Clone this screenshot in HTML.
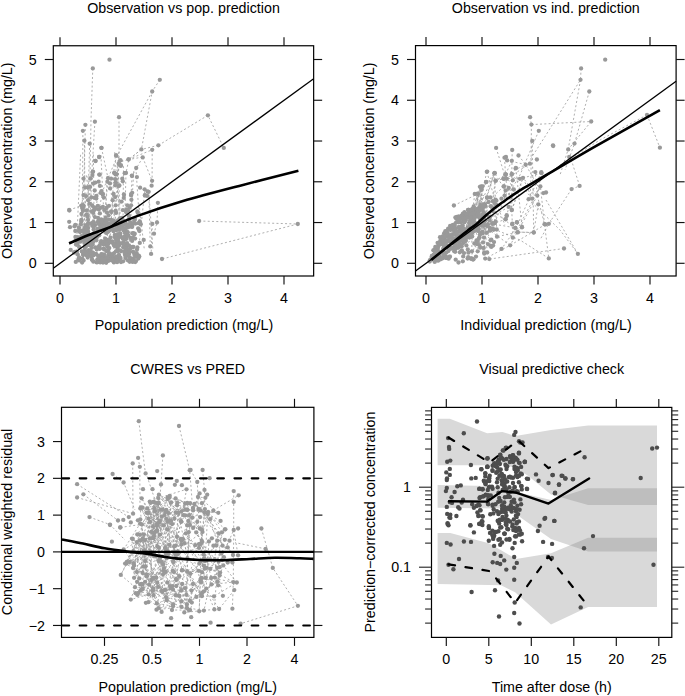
<!DOCTYPE html><html><head><meta charset="utf-8"><style>html,body{margin:0;padding:0;background:#fff;overflow:hidden}svg{display:block}</style></head><body><svg width="685" height="696" viewBox="0 0 685 696" font-family="Liberation Sans, sans-serif">
<rect width="685" height="696" fill="#fff"/>
<path d="M92.8,68.4 L91.0,120.0 L90.0,175.0 L89.0,215.0 M159.8,79.8 L152.2,91.5 L141.4,149.4 L128.9,159.4 L120.0,162.0 M142.7,157.4 L152.1,180.8 M142.7,157.4 L132.0,176.0 L131.1,195.4 M152.2,91.5 L120.0,150.0 L103.0,190.0 L95.0,230.0 M158.4,145.3 L207.9,115.3 L223.8,147.9 M199.1,221.0 L297.8,224.0 L162.0,259.0 M119.0,117.2 L119.0,163.7 L117.0,200.0 M94.9,121.7 L92.0,170.0 L90.0,220.0 M85.4,124.8 L84.0,180.0 L83.0,230.0 M82.9,130.8 L82.5,190.0 L82.0,240.0 M84.4,140.7 L85.0,200.0 L84.0,250.0 M89.7,143.7 L88.0,200.0 L87.0,245.0 M101.5,147.9 L108.0,178.2 L105.0,215.0 M141.4,149.4 L128.9,159.4 L126.0,172.9 L125.0,210.0 M152.2,149.8 L152.1,180.8 L151.6,185.7 M158.4,145.3 L141.6,149.4 M69.2,209.9 L83.0,205.3 M157.9,202.8 L157.0,222.5 L154.0,233.7 M150.3,246.4 L149.0,200.0 L148.7,191.8 M152.3,223.9 L151.1,253.9 M142.6,157.1 L128.6,159.5 M128.5,159.3 L152.2,149.8 M109.5,59.7 M135.9,167.9 L139.8,226.3 M88.1,176.2 L89.4,241.2 M90.2,184.7 L94.4,238.5 M82.0,202.6 L85.7,223.1 M115.5,196.0 L113.4,223.6 M86.1,192.8 L82.6,240.1 M93.4,154.5 L94.1,224.4 M110.6,188.7 L114.7,218.6 M148.7,190.7 L152.9,249.9 M86.6,175.4 L90.0,218.7 M117.7,155.9 L121.0,235.9 M118.6,156.7 L113.3,259.0 M139.0,203.6 L144.4,250.3 M117.2,162.1 L120.0,237.2 M133.8,171.1 L128.2,259.5 M114.7,152.2 L120.6,231.8 M88.3,204.2 L90.5,257.5 M83.9,175.9 L79.1,247.5 M100.9,155.1 L105.9,254.6 M144.7,191.3 L139.4,242.1 M113.7,191.8 L108.0,250.5 M80.6,154.8 L75.9,258.4 M107.3,176.2 L102.9,256.5 M98.3,192.5 L94.3,219.0 M81.8,202.7 L81.8,226.0 M106.5,204.0 L107.8,248.5 M114.3,164.7 L109.5,254.4 M123.5,166.2 L123.0,228.0 " fill="none" stroke="#9a9a9a" stroke-width="0.8" stroke-dasharray="2,2.3"/>
<g fill="#999999"><circle cx="100.6" cy="224.3" r="2.15"/><circle cx="101.5" cy="219.7" r="2.15"/><circle cx="81.3" cy="220.0" r="2.15"/><circle cx="115.1" cy="229.2" r="2.15"/><circle cx="105.4" cy="231.3" r="2.15"/><circle cx="96.8" cy="249.5" r="2.15"/><circle cx="137.0" cy="249.6" r="2.15"/><circle cx="83.1" cy="255.1" r="2.15"/><circle cx="113.3" cy="243.5" r="2.15"/><circle cx="80.8" cy="224.2" r="2.15"/><circle cx="81.7" cy="239.4" r="2.15"/><circle cx="74.5" cy="226.3" r="2.15"/><circle cx="133.4" cy="247.0" r="2.15"/><circle cx="81.7" cy="240.1" r="2.15"/><circle cx="82.2" cy="258.6" r="2.15"/><circle cx="111.5" cy="212.1" r="2.15"/><circle cx="108.3" cy="250.0" r="2.15"/><circle cx="88.2" cy="255.7" r="2.15"/><circle cx="117.8" cy="226.4" r="2.15"/><circle cx="118.5" cy="259.7" r="2.15"/><circle cx="107.3" cy="239.9" r="2.15"/><circle cx="121.1" cy="236.9" r="2.15"/><circle cx="132.9" cy="251.7" r="2.15"/><circle cx="124.9" cy="251.0" r="2.15"/><circle cx="96.0" cy="239.7" r="2.15"/><circle cx="99.7" cy="248.8" r="2.15"/><circle cx="103.8" cy="229.1" r="2.15"/><circle cx="133.2" cy="233.1" r="2.15"/><circle cx="133.8" cy="252.5" r="2.15"/><circle cx="103.7" cy="248.7" r="2.15"/><circle cx="119.2" cy="258.6" r="2.15"/><circle cx="119.0" cy="225.2" r="2.15"/><circle cx="85.1" cy="187.4" r="2.15"/><circle cx="115.2" cy="246.0" r="2.15"/><circle cx="92.9" cy="236.4" r="2.15"/><circle cx="112.2" cy="241.5" r="2.15"/><circle cx="125.0" cy="254.7" r="2.15"/><circle cx="135.1" cy="238.6" r="2.15"/><circle cx="100.7" cy="230.0" r="2.15"/><circle cx="95.1" cy="225.1" r="2.15"/><circle cx="125.4" cy="258.1" r="2.15"/><circle cx="126.9" cy="231.5" r="2.15"/><circle cx="83.4" cy="254.2" r="2.15"/><circle cx="91.1" cy="255.1" r="2.15"/><circle cx="107.6" cy="242.6" r="2.15"/><circle cx="105.2" cy="238.7" r="2.15"/><circle cx="117.6" cy="258.2" r="2.15"/><circle cx="114.0" cy="221.0" r="2.15"/><circle cx="128.9" cy="254.2" r="2.15"/><circle cx="129.3" cy="260.2" r="2.15"/><circle cx="104.2" cy="228.3" r="2.15"/><circle cx="125.7" cy="224.5" r="2.15"/><circle cx="97.8" cy="259.2" r="2.15"/><circle cx="87.4" cy="216.6" r="2.15"/><circle cx="99.2" cy="246.8" r="2.15"/><circle cx="112.5" cy="256.4" r="2.15"/><circle cx="84.4" cy="235.5" r="2.15"/><circle cx="93.6" cy="229.5" r="2.15"/><circle cx="113.5" cy="231.2" r="2.15"/><circle cx="84.8" cy="240.2" r="2.15"/><circle cx="133.6" cy="260.2" r="2.15"/><circle cx="104.4" cy="241.7" r="2.15"/><circle cx="105.1" cy="225.0" r="2.15"/><circle cx="139.3" cy="256.6" r="2.15"/><circle cx="125.7" cy="237.0" r="2.15"/><circle cx="104.3" cy="261.5" r="2.15"/><circle cx="86.6" cy="255.2" r="2.15"/><circle cx="124.0" cy="246.7" r="2.15"/><circle cx="123.2" cy="242.3" r="2.15"/><circle cx="114.0" cy="229.9" r="2.15"/><circle cx="115.5" cy="225.1" r="2.15"/><circle cx="118.5" cy="242.0" r="2.15"/><circle cx="86.5" cy="210.3" r="2.15"/><circle cx="82.1" cy="208.1" r="2.15"/><circle cx="86.1" cy="254.7" r="2.15"/><circle cx="104.6" cy="260.1" r="2.15"/><circle cx="98.3" cy="221.4" r="2.15"/><circle cx="96.1" cy="254.0" r="2.15"/><circle cx="102.4" cy="260.6" r="2.15"/><circle cx="105.7" cy="257.5" r="2.15"/><circle cx="101.7" cy="261.1" r="2.15"/><circle cx="100.8" cy="192.9" r="2.15"/><circle cx="106.2" cy="262.8" r="2.15"/><circle cx="108.7" cy="227.1" r="2.15"/><circle cx="98.6" cy="229.9" r="2.15"/><circle cx="116.7" cy="223.5" r="2.15"/><circle cx="94.9" cy="217.1" r="2.15"/><circle cx="92.7" cy="240.5" r="2.15"/><circle cx="112.9" cy="242.7" r="2.15"/><circle cx="94.6" cy="232.5" r="2.15"/><circle cx="91.4" cy="223.3" r="2.15"/><circle cx="75.0" cy="252.0" r="2.15"/><circle cx="93.8" cy="238.9" r="2.15"/><circle cx="99.5" cy="245.7" r="2.15"/><circle cx="125.4" cy="222.6" r="2.15"/><circle cx="131.4" cy="199.8" r="2.15"/><circle cx="105.1" cy="222.9" r="2.15"/><circle cx="78.4" cy="240.6" r="2.15"/><circle cx="105.6" cy="242.3" r="2.15"/><circle cx="92.3" cy="260.2" r="2.15"/><circle cx="103.5" cy="222.3" r="2.15"/><circle cx="119.0" cy="255.5" r="2.15"/><circle cx="119.1" cy="245.6" r="2.15"/><circle cx="110.1" cy="255.0" r="2.15"/><circle cx="84.9" cy="238.1" r="2.15"/><circle cx="80.4" cy="241.7" r="2.15"/><circle cx="107.5" cy="246.9" r="2.15"/><circle cx="86.8" cy="253.1" r="2.15"/><circle cx="92.6" cy="223.2" r="2.15"/><circle cx="102.7" cy="194.4" r="2.15"/><circle cx="106.0" cy="220.4" r="2.15"/><circle cx="125.4" cy="237.8" r="2.15"/><circle cx="86.7" cy="251.5" r="2.15"/><circle cx="113.9" cy="262.4" r="2.15"/><circle cx="101.7" cy="259.1" r="2.15"/><circle cx="98.0" cy="255.7" r="2.15"/><circle cx="93.9" cy="235.5" r="2.15"/><circle cx="127.7" cy="232.5" r="2.15"/><circle cx="95.2" cy="237.5" r="2.15"/><circle cx="108.6" cy="215.3" r="2.15"/><circle cx="96.2" cy="233.7" r="2.15"/><circle cx="82.4" cy="239.4" r="2.15"/><circle cx="91.9" cy="247.8" r="2.15"/><circle cx="128.3" cy="227.2" r="2.15"/><circle cx="98.7" cy="220.0" r="2.15"/><circle cx="123.2" cy="247.3" r="2.15"/><circle cx="91.9" cy="211.3" r="2.15"/><circle cx="96.9" cy="236.6" r="2.15"/><circle cx="124.9" cy="233.1" r="2.15"/><circle cx="104.7" cy="244.4" r="2.15"/><circle cx="133.0" cy="223.2" r="2.15"/><circle cx="85.6" cy="225.7" r="2.15"/><circle cx="91.7" cy="256.8" r="2.15"/><circle cx="77.8" cy="254.6" r="2.15"/><circle cx="108.4" cy="224.3" r="2.15"/><circle cx="88.8" cy="253.9" r="2.15"/><circle cx="109.3" cy="248.1" r="2.15"/><circle cx="107.4" cy="181.7" r="2.15"/><circle cx="87.0" cy="225.0" r="2.15"/><circle cx="78.4" cy="259.4" r="2.15"/><circle cx="117.6" cy="241.7" r="2.15"/><circle cx="103.0" cy="262.5" r="2.15"/><circle cx="108.7" cy="254.7" r="2.15"/><circle cx="104.2" cy="209.9" r="2.15"/><circle cx="118.0" cy="221.3" r="2.15"/><circle cx="115.9" cy="251.3" r="2.15"/><circle cx="108.8" cy="254.5" r="2.15"/><circle cx="89.5" cy="203.6" r="2.15"/><circle cx="132.4" cy="246.8" r="2.15"/><circle cx="93.7" cy="226.5" r="2.15"/><circle cx="103.9" cy="257.2" r="2.15"/><circle cx="134.4" cy="253.9" r="2.15"/><circle cx="82.5" cy="230.7" r="2.15"/><circle cx="130.6" cy="237.8" r="2.15"/><circle cx="118.1" cy="257.5" r="2.15"/><circle cx="85.0" cy="233.5" r="2.15"/><circle cx="94.8" cy="233.3" r="2.15"/><circle cx="134.7" cy="233.7" r="2.15"/><circle cx="99.7" cy="221.5" r="2.15"/><circle cx="86.1" cy="245.7" r="2.15"/><circle cx="88.5" cy="241.5" r="2.15"/><circle cx="88.1" cy="223.2" r="2.15"/><circle cx="132.6" cy="261.9" r="2.15"/><circle cx="101.2" cy="241.1" r="2.15"/><circle cx="134.9" cy="219.0" r="2.15"/><circle cx="108.0" cy="231.8" r="2.15"/><circle cx="115.4" cy="243.9" r="2.15"/><circle cx="104.4" cy="249.4" r="2.15"/><circle cx="105.5" cy="258.7" r="2.15"/><circle cx="124.6" cy="244.6" r="2.15"/><circle cx="119.5" cy="225.4" r="2.15"/><circle cx="86.9" cy="245.3" r="2.15"/><circle cx="112.7" cy="221.2" r="2.15"/><circle cx="117.7" cy="248.1" r="2.15"/><circle cx="83.6" cy="260.4" r="2.15"/><circle cx="103.2" cy="242.0" r="2.15"/><circle cx="98.6" cy="181.7" r="2.15"/><circle cx="118.0" cy="251.1" r="2.15"/><circle cx="83.5" cy="205.6" r="2.15"/><circle cx="100.2" cy="262.4" r="2.15"/><circle cx="79.1" cy="257.4" r="2.15"/><circle cx="123.1" cy="238.7" r="2.15"/><circle cx="74.0" cy="252.7" r="2.15"/><circle cx="123.5" cy="220.7" r="2.15"/><circle cx="96.4" cy="196.0" r="2.15"/><circle cx="78.9" cy="227.4" r="2.15"/><circle cx="77.8" cy="237.2" r="2.15"/><circle cx="120.2" cy="233.6" r="2.15"/><circle cx="83.5" cy="178.6" r="2.15"/><circle cx="113.4" cy="224.8" r="2.15"/><circle cx="116.0" cy="259.1" r="2.15"/><circle cx="84.9" cy="230.7" r="2.15"/><circle cx="98.8" cy="209.5" r="2.15"/><circle cx="118.5" cy="223.7" r="2.15"/><circle cx="103.7" cy="226.6" r="2.15"/><circle cx="91.4" cy="197.3" r="2.15"/><circle cx="93.0" cy="253.5" r="2.15"/><circle cx="86.9" cy="233.8" r="2.15"/><circle cx="101.8" cy="229.1" r="2.15"/><circle cx="94.1" cy="225.7" r="2.15"/><circle cx="123.5" cy="230.2" r="2.15"/><circle cx="127.7" cy="252.4" r="2.15"/><circle cx="84.5" cy="234.9" r="2.15"/><circle cx="107.5" cy="229.9" r="2.15"/><circle cx="127.8" cy="260.3" r="2.15"/><circle cx="93.0" cy="253.0" r="2.15"/><circle cx="119.5" cy="236.2" r="2.15"/><circle cx="137.4" cy="247.5" r="2.15"/><circle cx="75.4" cy="237.0" r="2.15"/><circle cx="100.5" cy="242.9" r="2.15"/><circle cx="86.1" cy="238.0" r="2.15"/><circle cx="92.0" cy="241.8" r="2.15"/><circle cx="127.7" cy="224.9" r="2.15"/><circle cx="118.9" cy="229.8" r="2.15"/><circle cx="98.2" cy="230.6" r="2.15"/><circle cx="135.2" cy="262.0" r="2.15"/><circle cx="119.4" cy="185.4" r="2.15"/><circle cx="88.6" cy="239.3" r="2.15"/><circle cx="90.3" cy="245.4" r="2.15"/><circle cx="123.1" cy="261.3" r="2.15"/><circle cx="118.0" cy="223.0" r="2.15"/><circle cx="94.3" cy="197.8" r="2.15"/><circle cx="115.3" cy="229.8" r="2.15"/><circle cx="99.9" cy="248.4" r="2.15"/><circle cx="125.0" cy="239.7" r="2.15"/><circle cx="125.8" cy="247.8" r="2.15"/><circle cx="97.0" cy="237.1" r="2.15"/><circle cx="115.3" cy="246.3" r="2.15"/><circle cx="92.1" cy="240.3" r="2.15"/><circle cx="121.5" cy="223.1" r="2.15"/><circle cx="93.2" cy="212.9" r="2.15"/><circle cx="106.7" cy="258.8" r="2.15"/><circle cx="75.8" cy="261.9" r="2.15"/><circle cx="116.8" cy="258.4" r="2.15"/><circle cx="78.7" cy="230.9" r="2.15"/><circle cx="104.3" cy="225.0" r="2.15"/><circle cx="128.3" cy="235.7" r="2.15"/><circle cx="84.6" cy="227.9" r="2.15"/><circle cx="100.2" cy="227.2" r="2.15"/><circle cx="121.0" cy="262.1" r="2.15"/><circle cx="114.7" cy="257.5" r="2.15"/><circle cx="86.1" cy="246.0" r="2.15"/><circle cx="106.6" cy="251.2" r="2.15"/><circle cx="88.1" cy="231.6" r="2.15"/><circle cx="108.0" cy="244.3" r="2.15"/><circle cx="85.4" cy="245.4" r="2.15"/><circle cx="123.5" cy="223.3" r="2.15"/><circle cx="130.3" cy="248.4" r="2.15"/><circle cx="112.4" cy="254.4" r="2.15"/><circle cx="131.1" cy="239.0" r="2.15"/><circle cx="116.1" cy="212.9" r="2.15"/><circle cx="88.1" cy="228.1" r="2.15"/><circle cx="82.1" cy="262.5" r="2.15"/><circle cx="98.6" cy="247.2" r="2.15"/><circle cx="100.9" cy="219.6" r="2.15"/><circle cx="92.9" cy="236.9" r="2.15"/><circle cx="88.6" cy="250.2" r="2.15"/><circle cx="100.8" cy="257.2" r="2.15"/><circle cx="121.5" cy="227.9" r="2.15"/><circle cx="99.7" cy="259.0" r="2.15"/><circle cx="118.0" cy="234.1" r="2.15"/><circle cx="127.1" cy="249.8" r="2.15"/><circle cx="120.1" cy="233.9" r="2.15"/><circle cx="132.6" cy="258.6" r="2.15"/><circle cx="111.6" cy="260.4" r="2.15"/><circle cx="114.8" cy="236.7" r="2.15"/><circle cx="83.1" cy="207.6" r="2.15"/><circle cx="96.4" cy="240.3" r="2.15"/><circle cx="80.0" cy="232.1" r="2.15"/><circle cx="120.6" cy="243.3" r="2.15"/><circle cx="136.0" cy="253.8" r="2.15"/><circle cx="93.3" cy="222.2" r="2.15"/><circle cx="76.0" cy="244.5" r="2.15"/><circle cx="89.2" cy="243.4" r="2.15"/><circle cx="100.5" cy="224.1" r="2.15"/><circle cx="79.1" cy="260.4" r="2.15"/><circle cx="97.3" cy="228.9" r="2.15"/><circle cx="137.4" cy="211.4" r="2.15"/><circle cx="79.1" cy="247.0" r="2.15"/><circle cx="104.1" cy="254.5" r="2.15"/><circle cx="89.6" cy="240.1" r="2.15"/><circle cx="106.0" cy="223.2" r="2.15"/><circle cx="122.0" cy="217.9" r="2.15"/><circle cx="97.3" cy="260.0" r="2.15"/><circle cx="110.7" cy="259.6" r="2.15"/><circle cx="111.9" cy="226.9" r="2.15"/><circle cx="103.8" cy="220.4" r="2.15"/><circle cx="87.4" cy="245.0" r="2.15"/><circle cx="127.0" cy="244.4" r="2.15"/><circle cx="113.0" cy="223.6" r="2.15"/><circle cx="122.2" cy="226.0" r="2.15"/><circle cx="138.8" cy="255.7" r="2.15"/><circle cx="116.0" cy="223.2" r="2.15"/><circle cx="108.3" cy="256.2" r="2.15"/><circle cx="97.9" cy="222.2" r="2.15"/><circle cx="76.9" cy="251.9" r="2.15"/><circle cx="116.6" cy="256.7" r="2.15"/><circle cx="75.6" cy="240.3" r="2.15"/><circle cx="102.6" cy="261.3" r="2.15"/><circle cx="120.6" cy="225.6" r="2.15"/><circle cx="108.3" cy="260.9" r="2.15"/><circle cx="108.9" cy="223.5" r="2.15"/><circle cx="109.9" cy="254.1" r="2.15"/><circle cx="88.0" cy="219.8" r="2.15"/><circle cx="111.9" cy="222.9" r="2.15"/><circle cx="106.5" cy="233.1" r="2.15"/><circle cx="123.8" cy="197.9" r="2.15"/><circle cx="120.5" cy="258.0" r="2.15"/><circle cx="75.3" cy="224.8" r="2.15"/><circle cx="117.3" cy="250.3" r="2.15"/><circle cx="81.3" cy="221.4" r="2.15"/><circle cx="98.0" cy="217.8" r="2.15"/><circle cx="103.1" cy="224.1" r="2.15"/><circle cx="92.2" cy="236.8" r="2.15"/><circle cx="129.8" cy="257.3" r="2.15"/><circle cx="103.3" cy="227.0" r="2.15"/><circle cx="112.1" cy="229.0" r="2.15"/><circle cx="136.9" cy="177.1" r="2.15"/><circle cx="127.7" cy="235.6" r="2.15"/><circle cx="109.8" cy="241.6" r="2.15"/><circle cx="92.2" cy="205.5" r="2.15"/><circle cx="102.5" cy="244.0" r="2.15"/><circle cx="85.2" cy="232.6" r="2.15"/><circle cx="91.7" cy="238.9" r="2.15"/><circle cx="124.9" cy="222.5" r="2.15"/><circle cx="97.8" cy="262.1" r="2.15"/><circle cx="93.7" cy="255.2" r="2.15"/><circle cx="82.8" cy="252.3" r="2.15"/><circle cx="100.7" cy="207.8" r="2.15"/><circle cx="87.7" cy="257.6" r="2.15"/><circle cx="81.3" cy="205.6" r="2.15"/><circle cx="105.9" cy="222.5" r="2.15"/><circle cx="122.9" cy="221.4" r="2.15"/><circle cx="90.3" cy="241.9" r="2.15"/><circle cx="128.9" cy="215.9" r="2.15"/><circle cx="136.0" cy="261.1" r="2.15"/><circle cx="122.9" cy="210.2" r="2.15"/><circle cx="101.5" cy="191.1" r="2.15"/><circle cx="131.6" cy="226.1" r="2.15"/><circle cx="129.4" cy="252.6" r="2.15"/><circle cx="104.6" cy="261.6" r="2.15"/><circle cx="80.3" cy="238.7" r="2.15"/><circle cx="93.0" cy="224.2" r="2.15"/><circle cx="134.4" cy="220.2" r="2.15"/><circle cx="109.3" cy="230.6" r="2.15"/><circle cx="114.2" cy="260.4" r="2.15"/><circle cx="84.9" cy="248.0" r="2.15"/><circle cx="86.3" cy="254.4" r="2.15"/><circle cx="98.7" cy="223.9" r="2.15"/><circle cx="128.6" cy="219.3" r="2.15"/><circle cx="117.3" cy="245.2" r="2.15"/><circle cx="126.3" cy="245.5" r="2.15"/><circle cx="92.7" cy="244.7" r="2.15"/><circle cx="81.4" cy="236.1" r="2.15"/><circle cx="138.9" cy="229.8" r="2.15"/><circle cx="123.3" cy="244.1" r="2.15"/><circle cx="109.0" cy="258.0" r="2.15"/><circle cx="84.5" cy="232.5" r="2.15"/><circle cx="118.0" cy="220.4" r="2.15"/><circle cx="117.4" cy="257.9" r="2.15"/><circle cx="134.8" cy="255.2" r="2.15"/><circle cx="105.6" cy="217.9" r="2.15"/><circle cx="130.1" cy="222.1" r="2.15"/><circle cx="105.9" cy="258.5" r="2.15"/><circle cx="102.1" cy="259.4" r="2.15"/><circle cx="99.2" cy="235.3" r="2.15"/><circle cx="108.0" cy="231.4" r="2.15"/><circle cx="139.8" cy="221.4" r="2.15"/><circle cx="114.6" cy="237.1" r="2.15"/><circle cx="136.7" cy="253.2" r="2.15"/><circle cx="109.3" cy="240.5" r="2.15"/><circle cx="114.8" cy="235.0" r="2.15"/><circle cx="103.0" cy="226.7" r="2.15"/><circle cx="83.9" cy="251.2" r="2.15"/><circle cx="86.5" cy="244.6" r="2.15"/><circle cx="116.3" cy="240.2" r="2.15"/><circle cx="120.1" cy="258.6" r="2.15"/><circle cx="84.3" cy="242.8" r="2.15"/><circle cx="86.7" cy="229.0" r="2.15"/><circle cx="96.7" cy="262.4" r="2.15"/><circle cx="127.1" cy="248.7" r="2.15"/><circle cx="110.5" cy="237.7" r="2.15"/><circle cx="121.8" cy="225.9" r="2.15"/><circle cx="118.8" cy="224.4" r="2.15"/><circle cx="91.4" cy="238.9" r="2.15"/><circle cx="87.8" cy="224.9" r="2.15"/><circle cx="132.3" cy="233.4" r="2.15"/><circle cx="126.0" cy="212.0" r="2.15"/><circle cx="93.4" cy="241.8" r="2.15"/><circle cx="89.6" cy="235.9" r="2.15"/><circle cx="93.8" cy="222.3" r="2.15"/><circle cx="95.0" cy="232.8" r="2.15"/><circle cx="90.4" cy="251.8" r="2.15"/><circle cx="83.2" cy="236.9" r="2.15"/><circle cx="92.3" cy="252.3" r="2.15"/><circle cx="126.5" cy="225.2" r="2.15"/><circle cx="127.6" cy="255.6" r="2.15"/><circle cx="83.6" cy="252.7" r="2.15"/><circle cx="110.0" cy="183.4" r="2.15"/><circle cx="93.4" cy="261.7" r="2.15"/><circle cx="87.6" cy="233.7" r="2.15"/><circle cx="101.8" cy="220.0" r="2.15"/><circle cx="115.5" cy="235.9" r="2.15"/><circle cx="101.7" cy="221.5" r="2.15"/><circle cx="124.8" cy="253.5" r="2.15"/><circle cx="125.3" cy="229.6" r="2.15"/><circle cx="81.8" cy="251.4" r="2.15"/><circle cx="117.2" cy="235.9" r="2.15"/><circle cx="90.3" cy="250.9" r="2.15"/><circle cx="110.6" cy="226.3" r="2.15"/><circle cx="101.4" cy="254.2" r="2.15"/><circle cx="92.2" cy="225.8" r="2.15"/><circle cx="92.0" cy="259.3" r="2.15"/><circle cx="75.3" cy="231.0" r="2.15"/><circle cx="126.6" cy="238.7" r="2.15"/><circle cx="81.3" cy="230.9" r="2.15"/><circle cx="95.6" cy="247.5" r="2.15"/><circle cx="134.1" cy="234.4" r="2.15"/><circle cx="116.2" cy="230.3" r="2.15"/><circle cx="119.7" cy="218.4" r="2.15"/><circle cx="110.7" cy="255.5" r="2.15"/><circle cx="122.8" cy="238.6" r="2.15"/><circle cx="95.4" cy="182.6" r="2.15"/><circle cx="106.6" cy="208.0" r="2.15"/><circle cx="108.9" cy="219.7" r="2.15"/><circle cx="131.9" cy="226.7" r="2.15"/><circle cx="107.0" cy="257.7" r="2.15"/><circle cx="95.6" cy="237.3" r="2.15"/><circle cx="118.9" cy="254.9" r="2.15"/><circle cx="124.5" cy="236.6" r="2.15"/><circle cx="121.3" cy="251.2" r="2.15"/><circle cx="111.6" cy="259.4" r="2.15"/><circle cx="109.6" cy="253.3" r="2.15"/><circle cx="77.5" cy="243.7" r="2.15"/><circle cx="129.7" cy="261.8" r="2.15"/><circle cx="94.3" cy="236.1" r="2.15"/><circle cx="92.4" cy="175.1" r="2.15"/><circle cx="139.4" cy="231.1" r="2.15"/><circle cx="120.0" cy="250.4" r="2.15"/><circle cx="90.5" cy="240.3" r="2.15"/><circle cx="81.2" cy="239.3" r="2.15"/><circle cx="116.6" cy="260.2" r="2.15"/><circle cx="127.4" cy="235.2" r="2.15"/><circle cx="129.6" cy="207.7" r="2.15"/><circle cx="127.3" cy="205.3" r="2.15"/><circle cx="116.3" cy="239.1" r="2.15"/><circle cx="107.9" cy="226.2" r="2.15"/><circle cx="116.8" cy="260.8" r="2.15"/><circle cx="123.8" cy="230.7" r="2.15"/><circle cx="111.3" cy="219.8" r="2.15"/><circle cx="117.1" cy="262.2" r="2.15"/><circle cx="111.3" cy="242.2" r="2.15"/><circle cx="132.1" cy="240.9" r="2.15"/><circle cx="101.8" cy="254.3" r="2.15"/><circle cx="83.0" cy="231.6" r="2.15"/><circle cx="91.1" cy="238.7" r="2.15"/><circle cx="118.1" cy="239.0" r="2.15"/><circle cx="94.2" cy="207.5" r="2.15"/><circle cx="138.2" cy="228.3" r="2.15"/><circle cx="118.6" cy="227.6" r="2.15"/><circle cx="123.4" cy="228.5" r="2.15"/><circle cx="129.0" cy="245.4" r="2.15"/><circle cx="125.5" cy="256.1" r="2.15"/><circle cx="113.9" cy="253.5" r="2.15"/><circle cx="86.3" cy="241.8" r="2.15"/><circle cx="88.0" cy="239.2" r="2.15"/><circle cx="114.0" cy="245.6" r="2.15"/><circle cx="125.0" cy="228.1" r="2.15"/><circle cx="100.6" cy="227.7" r="2.15"/><circle cx="130.5" cy="225.5" r="2.15"/><circle cx="109.5" cy="59.7" r="2.15"/><circle cx="92.8" cy="68.4" r="2.15"/><circle cx="159.8" cy="79.8" r="2.15"/><circle cx="152.2" cy="91.5" r="2.15"/><circle cx="119.0" cy="117.2" r="2.15"/><circle cx="94.9" cy="121.7" r="2.15"/><circle cx="85.4" cy="124.8" r="2.15"/><circle cx="82.9" cy="130.8" r="2.15"/><circle cx="84.4" cy="140.7" r="2.15"/><circle cx="89.7" cy="143.7" r="2.15"/><circle cx="101.5" cy="147.9" r="2.15"/><circle cx="158.4" cy="145.3" r="2.15"/><circle cx="141.4" cy="149.4" r="2.15"/><circle cx="152.2" cy="149.8" r="2.15"/><circle cx="116.1" cy="155.5" r="2.15"/><circle cx="142.7" cy="157.4" r="2.15"/><circle cx="99.2" cy="157.0" r="2.15"/><circle cx="95.4" cy="160.8" r="2.15"/><circle cx="120.5" cy="160.4" r="2.15"/><circle cx="128.6" cy="159.5" r="2.15"/><circle cx="119.0" cy="163.7" r="2.15"/><circle cx="120.9" cy="165.2" r="2.15"/><circle cx="136.2" cy="168.0" r="2.15"/><circle cx="93.0" cy="171.6" r="2.15"/><circle cx="99.6" cy="174.7" r="2.15"/><circle cx="114.4" cy="172.8" r="2.15"/><circle cx="115.7" cy="174.5" r="2.15"/><circle cx="124.8" cy="173.2" r="2.15"/><circle cx="131.9" cy="175.6" r="2.15"/><circle cx="207.9" cy="115.3" r="2.15"/><circle cx="223.8" cy="147.9" r="2.15"/><circle cx="199.1" cy="221.0" r="2.15"/><circle cx="297.8" cy="224.0" r="2.15"/><circle cx="101.4" cy="147.8" r="2.15"/><circle cx="116.2" cy="155.4" r="2.15"/><circle cx="99.1" cy="157.0" r="2.15"/><circle cx="95.6" cy="161.0" r="2.15"/><circle cx="120.3" cy="160.3" r="2.15"/><circle cx="128.5" cy="159.3" r="2.15"/><circle cx="118.8" cy="163.9" r="2.15"/><circle cx="120.8" cy="165.9" r="2.15"/><circle cx="92.7" cy="171.9" r="2.15"/><circle cx="99.3" cy="174.6" r="2.15"/><circle cx="114.2" cy="173.1" r="2.15"/><circle cx="116.2" cy="174.1" r="2.15"/><circle cx="124.9" cy="173.1" r="2.15"/><circle cx="90.7" cy="178.5" r="2.15"/><circle cx="108.0" cy="178.2" r="2.15"/><circle cx="111.1" cy="178.7" r="2.15"/><circle cx="115.2" cy="179.2" r="2.15"/><circle cx="122.3" cy="178.7" r="2.15"/><circle cx="122.8" cy="181.3" r="2.15"/><circle cx="93.2" cy="183.6" r="2.15"/><circle cx="115.7" cy="182.3" r="2.15"/><circle cx="99.9" cy="185.9" r="2.15"/><circle cx="115.2" cy="185.3" r="2.15"/><circle cx="118.8" cy="185.9" r="2.15"/><circle cx="87.6" cy="187.4" r="2.15"/><circle cx="90.1" cy="186.9" r="2.15"/><circle cx="94.7" cy="190.5" r="2.15"/><circle cx="110.1" cy="188.4" r="2.15"/><circle cx="83.5" cy="195.1" r="2.15"/><circle cx="86.1" cy="196.1" r="2.15"/><circle cx="88.1" cy="200.2" r="2.15"/><circle cx="102.9" cy="194.0" r="2.15"/><circle cx="103.9" cy="197.6" r="2.15"/><circle cx="113.6" cy="194.0" r="2.15"/><circle cx="115.2" cy="197.1" r="2.15"/><circle cx="112.6" cy="200.2" r="2.15"/><circle cx="123.9" cy="194.5" r="2.15"/><circle cx="121.3" cy="201.7" r="2.15"/><circle cx="96.3" cy="198.6" r="2.15"/><circle cx="83.0" cy="205.3" r="2.15"/><circle cx="69.2" cy="209.9" r="2.15"/><circle cx="97.8" cy="205.8" r="2.15"/><circle cx="95.8" cy="208.8" r="2.15"/><circle cx="93.7" cy="210.4" r="2.15"/><circle cx="102.9" cy="206.8" r="2.15"/><circle cx="109.0" cy="205.8" r="2.15"/><circle cx="115.7" cy="205.3" r="2.15"/><circle cx="115.7" cy="210.9" r="2.15"/><circle cx="83.0" cy="210.4" r="2.15"/><circle cx="81.5" cy="214.0" r="2.15"/><circle cx="86.6" cy="214.5" r="2.15"/><circle cx="99.9" cy="213.4" r="2.15"/><circle cx="107.0" cy="212.4" r="2.15"/><circle cx="111.1" cy="211.4" r="2.15"/><circle cx="128.0" cy="210.4" r="2.15"/><circle cx="157.9" cy="202.8" r="2.15"/><circle cx="157.0" cy="222.5" r="2.15"/><circle cx="152.3" cy="223.9" r="2.15"/><circle cx="154.0" cy="233.7" r="2.15"/><circle cx="150.3" cy="246.4" r="2.15"/><circle cx="151.1" cy="253.9" r="2.15"/><circle cx="162.0" cy="259.0" r="2.15"/><circle cx="143.7" cy="239.9" r="2.15"/><circle cx="139.8" cy="242.9" r="2.15"/><circle cx="133.2" cy="238.0" r="2.15"/><circle cx="132.2" cy="226.8" r="2.15"/><circle cx="138.3" cy="223.2" r="2.15"/><circle cx="140.8" cy="224.2" r="2.15"/><circle cx="135.2" cy="223.7" r="2.15"/><circle cx="137.8" cy="213.0" r="2.15"/><circle cx="127.0" cy="243.1" r="2.15"/><circle cx="129.1" cy="251.3" r="2.15"/><circle cx="135.2" cy="256.9" r="2.15"/><circle cx="138.3" cy="258.5" r="2.15"/><circle cx="144.9" cy="195.1" r="2.15"/><circle cx="147.5" cy="191.5" r="2.15"/><circle cx="131.1" cy="194.1" r="2.15"/><circle cx="131.1" cy="205.3" r="2.15"/><circle cx="126.5" cy="209.4" r="2.15"/><circle cx="126.0" cy="172.9" r="2.15"/><circle cx="132.0" cy="176.0" r="2.15"/><circle cx="152.1" cy="180.8" r="2.15"/><circle cx="151.6" cy="185.7" r="2.15"/><circle cx="140.1" cy="187.7" r="2.15"/><circle cx="144.6" cy="189.3" r="2.15"/><circle cx="148.7" cy="191.8" r="2.15"/><circle cx="144.9" cy="195.4" r="2.15"/><circle cx="147.0" cy="195.9" r="2.15"/><circle cx="132.2" cy="192.8" r="2.15"/><circle cx="131.1" cy="195.4" r="2.15"/><circle cx="69.4" cy="210.5" r="2.15"/><circle cx="69.2" cy="221.8" r="2.15"/><circle cx="70.0" cy="227.2" r="2.15"/><circle cx="70.7" cy="249.9" r="2.15"/></g>
<path d="M69.1,243.5 C72.2,242.1 81.2,237.9 88.0,235.2 C94.8,232.5 101.5,230.4 109.9,227.2 C118.3,223.9 126.2,220.0 138.4,215.6 C150.6,211.2 166.2,206.0 183.0,201.0 C199.8,196.1 220.0,190.9 239.2,185.9 C258.4,180.8 288.5,173.2 298.4,170.7" fill="none" stroke="#000" stroke-width="2.6" stroke-linejoin="round"/>
<line x1="53.30" y1="268.18" x2="313.65" y2="78.68" stroke="#000" stroke-width="1.3" />
<path d="M581.1,68.4 L580.5,79.8 L546.0,135.0 L530.0,160.0 M580.5,79.8 L568.2,149.4 L560.0,175.0 M589.3,91.5 L574.5,143.6 L565.0,170.0 M531.4,124.6 L591.2,121.5 L568.2,149.4 M647.0,114.9 L659.9,147.7 M647.0,114.9 L600.0,140.0 L560.0,165.0 M531.4,124.6 L531.0,176.0 L530.0,200.0 M530.1,117.2 L531.4,124.6 M538.8,130.8 L520.0,175.0 L505.0,200.0 M532.2,140.9 L533.0,190.0 L533.7,232.6 M496.1,147.9 L505.0,176.0 L510.0,200.0 M512.2,150.0 L511.8,174.1 L512.0,200.0 M518.5,155.5 L525.7,164.6 L540.0,190.0 M571.6,189.1 L579.6,185.9 L572.6,164.0 L569.2,157.0 M571.6,189.1 L548.8,223.8 L540.0,240.0 M546.0,200.0 L577.9,253.8 M564.0,248.5 L546.0,251.0 L489.3,259.1 M548.8,258.4 L520.0,240.0 L492.9,228.5 M453.9,205.5 L477.9,193.9 M486.8,171.8 L495.0,200.0 L505.0,225.0 M494.4,173.2 L497.0,236.7 M545.5,224.4 L510.2,245.3 L485.2,258.6 M533.7,232.6 L517.4,232.1 L497.0,236.7 M541.3,172.2 L515.0,230.0 L501.5,248.9 M504.5,157.7 L505.5,174.5 L504.0,186.3 L505.0,205.0 M515.9,168.0 L522.0,227.0 L517.9,232.4 M540.4,186.4 L512.8,237.7 M537.3,195.6 L510.2,245.3 M528.6,199.2 L560.0,230.0 L577.9,253.8 M481.1,186.4 L480.0,215.0 L478.0,240.0 M487.2,197.7 L486.0,230.0 L484.0,250.0 M474.8,193.9 L470.0,230.0 M482.7,233.4 L487.3,226.2 L472.2,217.1 L479.5,224.2 L490.6,240.3 M511.8,160.8 L505.5,174.5 L495.8,180.7 L486.2,181.8 M470.6,258.6 L482.6,222.4 L470.7,210.3 L492.4,223.2 L496.7,229.5 M493.5,229.8 L496.3,205.0 L482.6,209.0 M487.2,252.5 L484.1,215.7 L480.1,209.9 M537.3,195.6 L544.5,224.2 L548.8,258.4 M505.6,190.5 L494.6,173.3 L481.6,189.0 L470.5,217.9 L466.8,216.9 M477.3,230.7 L468.3,217.5 L466.4,245.4 L483.9,219.9 L478.5,228.8 M475.2,209.3 L495.5,199.7 L477.5,193.6 L469.4,222.8 M507.1,160.4 L525.7,164.6 L505.5,174.5 L513.8,189.5 M478.7,211.4 L477.5,193.6 L473.5,221.9 M493.1,245.6 L477.0,241.8 L489.6,220.4 L495.4,180.8 L503.6,178.8 M474.8,193.9 L483.9,219.9 L481.1,186.4 M508.7,206.9 L485.0,220.7 L477.5,193.6 M471.2,233.5 L468.2,233.6 L477.4,214.5 M474.8,193.9 L492.4,223.9 L470.5,217.9 L473.6,218.8 M490.3,230.4 L481.8,218.7 L470.4,231.2 L472.2,217.1 L476.7,210.9 M487.2,197.7 L481.4,232.9 L484.8,205.3 M510.2,245.3 L489.8,230.5 L471.9,213.8 L484.0,222.7 L482.1,205.9 M544.5,224.2 L540.4,186.4 L532.2,198.7 L523.0,177.8 L511.8,210.1 M503.6,178.8 L523.0,177.8 L511.8,210.1 L508.7,188.0 L494.7,223.2 M483.9,219.9 L472.9,210.1 L470.0,215.4 M491.3,239.6 L480.8,223.4 L485.3,205.8 M486.8,171.8 L478.6,208.1 L494.4,173.2 L484.7,204.1 M538.3,204.3 L533.7,232.4 L517.4,232.1 M474.0,222.8 L479.9,186.8 L483.9,219.9 L484.0,237.6 M472.2,236.6 L470.6,218.2 L484.2,253.5 M541.3,172.2 L541.4,173.2 L537.3,195.6 L535.3,172.1 M480.5,208.3 L477.7,251.3 L469.7,234.2 L476.7,210.9 M513.8,189.5 L505.6,219.3 L492.4,223.9 L515.3,227.8 M471.9,251.3 L471.7,213.6 L482.7,233.4 L495.5,199.7 L490.3,230.4 M475.6,213.3 L476.6,209.1 L472.2,236.6 M494.7,172.9 L483.4,205.3 L504.0,186.3 M472.2,217.1 L488.6,202.0 L482.7,233.4 M512.8,237.7 L511.8,210.0 L511.8,174.2 M468.2,236.8 L466.8,217.6 L465.7,238.4 M529.9,163.7 L506.7,178.8 L511.8,174.1 L532.2,198.7 M473.5,221.9 L479.9,186.8 L487.3,226.2 M541.4,173.2 L523.0,177.8 L537.3,195.6 M515.3,228.0 L492.7,211.0 L481.9,218.1 L484.8,205.3 L477.9,193.9 " fill="none" stroke="#9a9a9a" stroke-width="0.8" stroke-dasharray="2,2.3"/>
<g fill="#999999"><circle cx="440.2" cy="241.0" r="2.15"/><circle cx="437.5" cy="258.7" r="2.15"/><circle cx="466.5" cy="215.4" r="2.15"/><circle cx="445.0" cy="247.7" r="2.15"/><circle cx="442.7" cy="258.3" r="2.15"/><circle cx="456.9" cy="217.0" r="2.15"/><circle cx="466.4" cy="245.4" r="2.15"/><circle cx="470.4" cy="231.2" r="2.15"/><circle cx="462.4" cy="217.8" r="2.15"/><circle cx="488.6" cy="202.0" r="2.15"/><circle cx="469.9" cy="221.5" r="2.15"/><circle cx="447.8" cy="246.9" r="2.15"/><circle cx="469.4" cy="237.6" r="2.15"/><circle cx="451.1" cy="226.5" r="2.15"/><circle cx="477.3" cy="230.7" r="2.15"/><circle cx="450.0" cy="256.7" r="2.15"/><circle cx="463.2" cy="230.7" r="2.15"/><circle cx="433.3" cy="250.3" r="2.15"/><circle cx="459.1" cy="228.3" r="2.15"/><circle cx="461.6" cy="226.4" r="2.15"/><circle cx="476.5" cy="240.5" r="2.15"/><circle cx="479.5" cy="224.2" r="2.15"/><circle cx="494.0" cy="242.1" r="2.15"/><circle cx="451.8" cy="237.5" r="2.15"/><circle cx="446.3" cy="252.6" r="2.15"/><circle cx="460.8" cy="222.3" r="2.15"/><circle cx="489.8" cy="217.4" r="2.15"/><circle cx="470.2" cy="235.9" r="2.15"/><circle cx="483.4" cy="215.0" r="2.15"/><circle cx="463.8" cy="240.2" r="2.15"/><circle cx="462.7" cy="240.4" r="2.15"/><circle cx="465.6" cy="220.2" r="2.15"/><circle cx="478.5" cy="228.8" r="2.15"/><circle cx="485.3" cy="205.8" r="2.15"/><circle cx="453.0" cy="229.4" r="2.15"/><circle cx="440.8" cy="242.5" r="2.15"/><circle cx="440.0" cy="253.0" r="2.15"/><circle cx="490.6" cy="240.3" r="2.15"/><circle cx="440.0" cy="258.9" r="2.15"/><circle cx="489.0" cy="216.8" r="2.15"/><circle cx="484.4" cy="216.8" r="2.15"/><circle cx="436.3" cy="258.6" r="2.15"/><circle cx="489.9" cy="228.0" r="2.15"/><circle cx="468.5" cy="232.7" r="2.15"/><circle cx="484.2" cy="225.7" r="2.15"/><circle cx="454.2" cy="251.2" r="2.15"/><circle cx="460.4" cy="218.8" r="2.15"/><circle cx="480.1" cy="217.7" r="2.15"/><circle cx="442.5" cy="252.7" r="2.15"/><circle cx="438.9" cy="251.5" r="2.15"/><circle cx="475.4" cy="211.9" r="2.15"/><circle cx="443.8" cy="240.8" r="2.15"/><circle cx="473.1" cy="217.2" r="2.15"/><circle cx="469.4" cy="222.8" r="2.15"/><circle cx="472.2" cy="217.1" r="2.15"/><circle cx="444.1" cy="233.4" r="2.15"/><circle cx="483.3" cy="214.2" r="2.15"/><circle cx="442.8" cy="241.8" r="2.15"/><circle cx="481.4" cy="232.9" r="2.15"/><circle cx="473.6" cy="218.8" r="2.15"/><circle cx="451.1" cy="248.7" r="2.15"/><circle cx="474.0" cy="222.8" r="2.15"/><circle cx="466.8" cy="216.9" r="2.15"/><circle cx="441.7" cy="257.6" r="2.15"/><circle cx="444.7" cy="238.1" r="2.15"/><circle cx="448.0" cy="234.0" r="2.15"/><circle cx="476.0" cy="225.5" r="2.15"/><circle cx="471.6" cy="210.2" r="2.15"/><circle cx="473.5" cy="221.9" r="2.15"/><circle cx="459.9" cy="246.5" r="2.15"/><circle cx="457.1" cy="219.0" r="2.15"/><circle cx="471.5" cy="213.1" r="2.15"/><circle cx="435.6" cy="258.7" r="2.15"/><circle cx="478.6" cy="208.1" r="2.15"/><circle cx="437.2" cy="249.5" r="2.15"/><circle cx="472.2" cy="236.6" r="2.15"/><circle cx="468.0" cy="216.9" r="2.15"/><circle cx="456.1" cy="222.6" r="2.15"/><circle cx="473.7" cy="225.0" r="2.15"/><circle cx="475.6" cy="213.3" r="2.15"/><circle cx="472.0" cy="258.7" r="2.15"/><circle cx="447.0" cy="245.5" r="2.15"/><circle cx="463.7" cy="231.0" r="2.15"/><circle cx="482.1" cy="207.5" r="2.15"/><circle cx="457.5" cy="240.6" r="2.15"/><circle cx="446.7" cy="241.2" r="2.15"/><circle cx="442.4" cy="239.6" r="2.15"/><circle cx="462.4" cy="233.4" r="2.15"/><circle cx="444.4" cy="247.0" r="2.15"/><circle cx="434.7" cy="260.8" r="2.15"/><circle cx="459.5" cy="219.9" r="2.15"/><circle cx="452.3" cy="239.7" r="2.15"/><circle cx="473.4" cy="230.6" r="2.15"/><circle cx="456.3" cy="245.6" r="2.15"/><circle cx="462.9" cy="213.6" r="2.15"/><circle cx="456.1" cy="238.6" r="2.15"/><circle cx="457.0" cy="237.7" r="2.15"/><circle cx="483.0" cy="242.4" r="2.15"/><circle cx="458.0" cy="247.8" r="2.15"/><circle cx="481.9" cy="218.1" r="2.15"/><circle cx="453.6" cy="248.3" r="2.15"/><circle cx="442.7" cy="236.5" r="2.15"/><circle cx="490.4" cy="245.7" r="2.15"/><circle cx="440.4" cy="244.0" r="2.15"/><circle cx="469.7" cy="234.2" r="2.15"/><circle cx="467.6" cy="258.6" r="2.15"/><circle cx="461.5" cy="238.4" r="2.15"/><circle cx="466.5" cy="233.6" r="2.15"/><circle cx="468.5" cy="210.0" r="2.15"/><circle cx="452.6" cy="225.1" r="2.15"/><circle cx="446.6" cy="257.9" r="2.15"/><circle cx="473.7" cy="206.5" r="2.15"/><circle cx="443.1" cy="250.6" r="2.15"/><circle cx="472.2" cy="232.8" r="2.15"/><circle cx="472.9" cy="213.3" r="2.15"/><circle cx="459.8" cy="228.9" r="2.15"/><circle cx="464.3" cy="222.2" r="2.15"/><circle cx="439.1" cy="254.6" r="2.15"/><circle cx="495.6" cy="221.5" r="2.15"/><circle cx="492.7" cy="211.0" r="2.15"/><circle cx="458.7" cy="241.4" r="2.15"/><circle cx="470.5" cy="217.9" r="2.15"/><circle cx="454.7" cy="232.3" r="2.15"/><circle cx="440.4" cy="243.2" r="2.15"/><circle cx="443.1" cy="241.4" r="2.15"/><circle cx="434.4" cy="255.9" r="2.15"/><circle cx="472.9" cy="215.5" r="2.15"/><circle cx="450.1" cy="236.1" r="2.15"/><circle cx="458.5" cy="262.5" r="2.15"/><circle cx="452.8" cy="242.7" r="2.15"/><circle cx="435.1" cy="253.6" r="2.15"/><circle cx="461.7" cy="246.3" r="2.15"/><circle cx="484.1" cy="215.7" r="2.15"/><circle cx="469.8" cy="223.0" r="2.15"/><circle cx="459.4" cy="231.7" r="2.15"/><circle cx="469.6" cy="225.5" r="2.15"/><circle cx="458.6" cy="246.7" r="2.15"/><circle cx="457.2" cy="238.4" r="2.15"/><circle cx="465.7" cy="238.4" r="2.15"/><circle cx="483.7" cy="212.3" r="2.15"/><circle cx="442.9" cy="239.7" r="2.15"/><circle cx="435.6" cy="250.3" r="2.15"/><circle cx="470.6" cy="258.6" r="2.15"/><circle cx="443.6" cy="248.2" r="2.15"/><circle cx="458.8" cy="216.4" r="2.15"/><circle cx="495.5" cy="199.7" r="2.15"/><circle cx="454.3" cy="243.8" r="2.15"/><circle cx="487.3" cy="226.2" r="2.15"/><circle cx="445.7" cy="256.3" r="2.15"/><circle cx="474.4" cy="243.4" r="2.15"/><circle cx="476.2" cy="224.6" r="2.15"/><circle cx="469.0" cy="212.6" r="2.15"/><circle cx="483.9" cy="219.9" r="2.15"/><circle cx="471.1" cy="232.0" r="2.15"/><circle cx="455.7" cy="259.7" r="2.15"/><circle cx="463.8" cy="221.3" r="2.15"/><circle cx="494.7" cy="223.2" r="2.15"/><circle cx="462.8" cy="261.3" r="2.15"/><circle cx="480.2" cy="247.7" r="2.15"/><circle cx="464.5" cy="212.1" r="2.15"/><circle cx="443.7" cy="253.4" r="2.15"/><circle cx="470.0" cy="215.4" r="2.15"/><circle cx="480.3" cy="205.0" r="2.15"/><circle cx="449.4" cy="248.8" r="2.15"/><circle cx="471.1" cy="258.5" r="2.15"/><circle cx="434.9" cy="250.8" r="2.15"/><circle cx="461.0" cy="234.8" r="2.15"/><circle cx="485.0" cy="220.7" r="2.15"/><circle cx="482.6" cy="209.0" r="2.15"/><circle cx="476.7" cy="216.4" r="2.15"/><circle cx="476.0" cy="256.6" r="2.15"/><circle cx="480.8" cy="223.4" r="2.15"/><circle cx="432.9" cy="259.3" r="2.15"/><circle cx="461.3" cy="250.8" r="2.15"/><circle cx="455.5" cy="248.7" r="2.15"/><circle cx="438.1" cy="260.7" r="2.15"/><circle cx="468.3" cy="217.5" r="2.15"/><circle cx="439.4" cy="256.4" r="2.15"/><circle cx="454.5" cy="234.7" r="2.15"/><circle cx="437.3" cy="259.0" r="2.15"/><circle cx="464.0" cy="253.1" r="2.15"/><circle cx="443.9" cy="243.1" r="2.15"/><circle cx="482.6" cy="222.9" r="2.15"/><circle cx="453.3" cy="225.2" r="2.15"/><circle cx="484.7" cy="204.1" r="2.15"/><circle cx="440.0" cy="237.2" r="2.15"/><circle cx="446.9" cy="233.7" r="2.15"/><circle cx="486.9" cy="232.7" r="2.15"/><circle cx="487.9" cy="244.1" r="2.15"/><circle cx="493.5" cy="229.8" r="2.15"/><circle cx="432.3" cy="258.5" r="2.15"/><circle cx="459.4" cy="242.1" r="2.15"/><circle cx="451.9" cy="234.3" r="2.15"/><circle cx="450.1" cy="226.0" r="2.15"/><circle cx="496.3" cy="205.0" r="2.15"/><circle cx="443.9" cy="237.1" r="2.15"/><circle cx="462.6" cy="230.1" r="2.15"/><circle cx="464.3" cy="216.7" r="2.15"/><circle cx="434.7" cy="261.9" r="2.15"/><circle cx="490.3" cy="197.4" r="2.15"/><circle cx="468.7" cy="228.9" r="2.15"/><circle cx="469.3" cy="213.4" r="2.15"/><circle cx="432.0" cy="256.0" r="2.15"/><circle cx="473.0" cy="229.7" r="2.15"/><circle cx="448.4" cy="251.1" r="2.15"/><circle cx="448.2" cy="240.9" r="2.15"/><circle cx="474.5" cy="222.1" r="2.15"/><circle cx="455.3" cy="231.7" r="2.15"/><circle cx="466.8" cy="217.6" r="2.15"/><circle cx="490.7" cy="206.2" r="2.15"/><circle cx="457.1" cy="237.9" r="2.15"/><circle cx="460.5" cy="245.9" r="2.15"/><circle cx="475.2" cy="209.3" r="2.15"/><circle cx="461.9" cy="250.4" r="2.15"/><circle cx="464.3" cy="222.0" r="2.15"/><circle cx="440.6" cy="257.4" r="2.15"/><circle cx="462.7" cy="225.5" r="2.15"/><circle cx="492.7" cy="201.2" r="2.15"/><circle cx="443.1" cy="239.3" r="2.15"/><circle cx="462.7" cy="218.9" r="2.15"/><circle cx="438.3" cy="246.0" r="2.15"/><circle cx="471.9" cy="251.3" r="2.15"/><circle cx="443.7" cy="238.7" r="2.15"/><circle cx="471.7" cy="213.6" r="2.15"/><circle cx="434.4" cy="249.6" r="2.15"/><circle cx="461.8" cy="238.7" r="2.15"/><circle cx="454.0" cy="230.5" r="2.15"/><circle cx="478.0" cy="224.0" r="2.15"/><circle cx="451.9" cy="225.8" r="2.15"/><circle cx="462.5" cy="236.1" r="2.15"/><circle cx="467.8" cy="249.5" r="2.15"/><circle cx="465.7" cy="235.2" r="2.15"/><circle cx="454.2" cy="238.9" r="2.15"/><circle cx="450.7" cy="248.2" r="2.15"/><circle cx="438.3" cy="243.5" r="2.15"/><circle cx="458.3" cy="227.4" r="2.15"/><circle cx="446.0" cy="257.8" r="2.15"/><circle cx="473.9" cy="218.7" r="2.15"/><circle cx="478.5" cy="226.6" r="2.15"/><circle cx="473.5" cy="259.3" r="2.15"/><circle cx="435.3" cy="246.9" r="2.15"/><circle cx="467.7" cy="227.5" r="2.15"/><circle cx="472.5" cy="219.5" r="2.15"/><circle cx="472.3" cy="208.8" r="2.15"/><circle cx="438.0" cy="247.8" r="2.15"/><circle cx="455.2" cy="251.8" r="2.15"/><circle cx="481.7" cy="222.4" r="2.15"/><circle cx="429.7" cy="261.5" r="2.15"/><circle cx="453.9" cy="234.4" r="2.15"/><circle cx="453.0" cy="226.9" r="2.15"/><circle cx="493.1" cy="245.6" r="2.15"/><circle cx="482.6" cy="222.4" r="2.15"/><circle cx="472.9" cy="210.1" r="2.15"/><circle cx="433.6" cy="254.7" r="2.15"/><circle cx="435.0" cy="251.3" r="2.15"/><circle cx="458.5" cy="222.3" r="2.15"/><circle cx="464.2" cy="239.0" r="2.15"/><circle cx="446.5" cy="236.5" r="2.15"/><circle cx="468.7" cy="209.8" r="2.15"/><circle cx="454.7" cy="245.4" r="2.15"/><circle cx="444.0" cy="254.4" r="2.15"/><circle cx="442.9" cy="244.3" r="2.15"/><circle cx="479.3" cy="245.1" r="2.15"/><circle cx="455.1" cy="243.3" r="2.15"/><circle cx="466.6" cy="235.2" r="2.15"/><circle cx="434.9" cy="254.1" r="2.15"/><circle cx="481.8" cy="218.7" r="2.15"/><circle cx="452.7" cy="247.9" r="2.15"/><circle cx="484.8" cy="205.3" r="2.15"/><circle cx="482.0" cy="224.2" r="2.15"/><circle cx="446.3" cy="241.6" r="2.15"/><circle cx="444.1" cy="253.6" r="2.15"/><circle cx="461.7" cy="215.6" r="2.15"/><circle cx="460.8" cy="231.4" r="2.15"/><circle cx="459.8" cy="252.3" r="2.15"/><circle cx="458.5" cy="221.4" r="2.15"/><circle cx="448.9" cy="237.8" r="2.15"/><circle cx="460.5" cy="218.5" r="2.15"/><circle cx="470.6" cy="218.2" r="2.15"/><circle cx="436.1" cy="258.8" r="2.15"/><circle cx="437.6" cy="242.8" r="2.15"/><circle cx="451.0" cy="236.0" r="2.15"/><circle cx="444.6" cy="233.6" r="2.15"/><circle cx="474.4" cy="231.1" r="2.15"/><circle cx="477.4" cy="214.5" r="2.15"/><circle cx="443.5" cy="248.4" r="2.15"/><circle cx="481.7" cy="209.7" r="2.15"/><circle cx="468.2" cy="236.8" r="2.15"/><circle cx="491.3" cy="239.6" r="2.15"/><circle cx="478.4" cy="231.1" r="2.15"/><circle cx="449.1" cy="257.0" r="2.15"/><circle cx="484.0" cy="237.6" r="2.15"/><circle cx="454.7" cy="225.7" r="2.15"/><circle cx="453.9" cy="224.7" r="2.15"/><circle cx="459.5" cy="243.5" r="2.15"/><circle cx="492.0" cy="207.3" r="2.15"/><circle cx="478.6" cy="239.1" r="2.15"/><circle cx="463.0" cy="243.3" r="2.15"/><circle cx="484.0" cy="222.7" r="2.15"/><circle cx="458.0" cy="238.8" r="2.15"/><circle cx="482.7" cy="233.4" r="2.15"/><circle cx="462.1" cy="239.1" r="2.15"/><circle cx="454.3" cy="249.0" r="2.15"/><circle cx="448.1" cy="228.7" r="2.15"/><circle cx="483.4" cy="205.3" r="2.15"/><circle cx="474.7" cy="216.9" r="2.15"/><circle cx="468.2" cy="233.6" r="2.15"/><circle cx="456.2" cy="218.5" r="2.15"/><circle cx="463.2" cy="256.4" r="2.15"/><circle cx="484.3" cy="252.5" r="2.15"/><circle cx="488.0" cy="224.5" r="2.15"/><circle cx="431.9" cy="256.2" r="2.15"/><circle cx="476.7" cy="210.9" r="2.15"/><circle cx="455.6" cy="228.6" r="2.15"/><circle cx="451.5" cy="237.4" r="2.15"/><circle cx="468.4" cy="252.7" r="2.15"/><circle cx="482.1" cy="215.0" r="2.15"/><circle cx="446.4" cy="242.1" r="2.15"/><circle cx="465.1" cy="241.3" r="2.15"/><circle cx="463.4" cy="228.4" r="2.15"/><circle cx="457.5" cy="241.7" r="2.15"/><circle cx="443.5" cy="245.0" r="2.15"/><circle cx="447.0" cy="231.1" r="2.15"/><circle cx="489.6" cy="220.4" r="2.15"/><circle cx="448.6" cy="258.7" r="2.15"/><circle cx="443.9" cy="255.6" r="2.15"/><circle cx="458.4" cy="235.8" r="2.15"/><circle cx="464.6" cy="241.3" r="2.15"/><circle cx="472.9" cy="259.6" r="2.15"/><circle cx="468.2" cy="257.2" r="2.15"/><circle cx="465.8" cy="240.4" r="2.15"/><circle cx="478.7" cy="211.4" r="2.15"/><circle cx="470.7" cy="210.3" r="2.15"/><circle cx="479.5" cy="237.5" r="2.15"/><circle cx="450.5" cy="230.0" r="2.15"/><circle cx="480.5" cy="208.3" r="2.15"/><circle cx="482.9" cy="206.5" r="2.15"/><circle cx="457.6" cy="235.1" r="2.15"/><circle cx="440.2" cy="259.0" r="2.15"/><circle cx="446.9" cy="234.6" r="2.15"/><circle cx="471.2" cy="233.5" r="2.15"/><circle cx="463.9" cy="214.3" r="2.15"/><circle cx="456.9" cy="232.1" r="2.15"/><circle cx="445.5" cy="256.3" r="2.15"/><circle cx="449.0" cy="249.3" r="2.15"/><circle cx="468.0" cy="209.9" r="2.15"/><circle cx="440.7" cy="259.3" r="2.15"/><circle cx="482.0" cy="225.7" r="2.15"/><circle cx="482.6" cy="232.0" r="2.15"/><circle cx="434.9" cy="255.1" r="2.15"/><circle cx="458.3" cy="219.6" r="2.15"/><circle cx="462.5" cy="216.3" r="2.15"/><circle cx="477.5" cy="224.9" r="2.15"/><circle cx="456.6" cy="232.5" r="2.15"/><circle cx="471.9" cy="213.8" r="2.15"/><circle cx="479.9" cy="218.2" r="2.15"/><circle cx="440.1" cy="244.4" r="2.15"/><circle cx="476.6" cy="209.1" r="2.15"/><circle cx="462.8" cy="240.0" r="2.15"/><circle cx="457.9" cy="237.2" r="2.15"/><circle cx="437.8" cy="260.2" r="2.15"/><circle cx="478.4" cy="215.4" r="2.15"/><circle cx="429.9" cy="260.2" r="2.15"/><circle cx="459.2" cy="227.0" r="2.15"/><circle cx="445.8" cy="257.7" r="2.15"/><circle cx="462.1" cy="215.8" r="2.15"/><circle cx="477.7" cy="251.3" r="2.15"/><circle cx="464.2" cy="229.2" r="2.15"/><circle cx="456.8" cy="231.6" r="2.15"/><circle cx="496.7" cy="229.5" r="2.15"/><circle cx="465.2" cy="238.0" r="2.15"/><circle cx="476.9" cy="244.1" r="2.15"/><circle cx="449.5" cy="241.5" r="2.15"/><circle cx="466.3" cy="213.9" r="2.15"/><circle cx="445.3" cy="240.9" r="2.15"/><circle cx="431.5" cy="258.2" r="2.15"/><circle cx="438.5" cy="254.1" r="2.15"/><circle cx="459.7" cy="239.2" r="2.15"/><circle cx="475.6" cy="227.0" r="2.15"/><circle cx="445.3" cy="231.2" r="2.15"/><circle cx="605.2" cy="59.7" r="2.15"/><circle cx="581.1" cy="68.4" r="2.15"/><circle cx="580.5" cy="79.8" r="2.15"/><circle cx="589.3" cy="91.5" r="2.15"/><circle cx="591.2" cy="121.5" r="2.15"/><circle cx="553.0" cy="145.3" r="2.15"/><circle cx="574.5" cy="143.6" r="2.15"/><circle cx="568.2" cy="149.4" r="2.15"/><circle cx="569.2" cy="157.0" r="2.15"/><circle cx="647.0" cy="114.9" r="2.15"/><circle cx="659.9" cy="147.7" r="2.15"/><circle cx="530.1" cy="117.2" r="2.15"/><circle cx="531.4" cy="124.6" r="2.15"/><circle cx="538.8" cy="130.8" r="2.15"/><circle cx="532.2" cy="140.9" r="2.15"/><circle cx="496.1" cy="147.9" r="2.15"/><circle cx="512.2" cy="150.0" r="2.15"/><circle cx="506.0" cy="157.0" r="2.15"/><circle cx="507.1" cy="160.4" r="2.15"/><circle cx="511.8" cy="160.8" r="2.15"/><circle cx="518.5" cy="155.5" r="2.15"/><circle cx="536.9" cy="159.5" r="2.15"/><circle cx="525.7" cy="164.6" r="2.15"/><circle cx="529.9" cy="163.7" r="2.15"/><circle cx="515.6" cy="168.4" r="2.15"/><circle cx="486.8" cy="171.8" r="2.15"/><circle cx="494.4" cy="173.2" r="2.15"/><circle cx="505.6" cy="174.5" r="2.15"/><circle cx="511.8" cy="174.1" r="2.15"/><circle cx="541.3" cy="172.2" r="2.15"/><circle cx="487.2" cy="171.6" r="2.15"/><circle cx="494.7" cy="172.9" r="2.15"/><circle cx="495.4" cy="180.8" r="2.15"/><circle cx="486.2" cy="181.8" r="2.15"/><circle cx="481.1" cy="186.4" r="2.15"/><circle cx="481.6" cy="189.0" r="2.15"/><circle cx="477.5" cy="193.6" r="2.15"/><circle cx="487.2" cy="197.7" r="2.15"/><circle cx="503.6" cy="178.8" r="2.15"/><circle cx="506.7" cy="178.8" r="2.15"/><circle cx="505.6" cy="174.7" r="2.15"/><circle cx="511.8" cy="174.2" r="2.15"/><circle cx="515.9" cy="168.0" r="2.15"/><circle cx="512.8" cy="180.3" r="2.15"/><circle cx="519.9" cy="178.8" r="2.15"/><circle cx="523.0" cy="177.8" r="2.15"/><circle cx="503.6" cy="186.4" r="2.15"/><circle cx="508.7" cy="188.0" r="2.15"/><circle cx="505.6" cy="190.5" r="2.15"/><circle cx="513.8" cy="189.5" r="2.15"/><circle cx="504.6" cy="195.6" r="2.15"/><circle cx="501.5" cy="198.7" r="2.15"/><circle cx="496.4" cy="200.7" r="2.15"/><circle cx="494.4" cy="202.8" r="2.15"/><circle cx="482.1" cy="205.9" r="2.15"/><circle cx="480.1" cy="209.9" r="2.15"/><circle cx="478.0" cy="214.0" r="2.15"/><circle cx="484.2" cy="214.0" r="2.15"/><circle cx="508.7" cy="206.9" r="2.15"/><circle cx="511.8" cy="210.0" r="2.15"/><circle cx="506.7" cy="216.1" r="2.15"/><circle cx="505.6" cy="219.1" r="2.15"/><circle cx="492.4" cy="223.2" r="2.15"/><circle cx="490.3" cy="230.4" r="2.15"/><circle cx="512.3" cy="223.7" r="2.15"/><circle cx="516.9" cy="222.2" r="2.15"/><circle cx="515.3" cy="227.8" r="2.15"/><circle cx="522.0" cy="227.3" r="2.15"/><circle cx="517.9" cy="232.4" r="2.15"/><circle cx="533.7" cy="232.4" r="2.15"/><circle cx="528.6" cy="199.2" r="2.15"/><circle cx="532.2" cy="198.7" r="2.15"/><circle cx="537.3" cy="195.6" r="2.15"/><circle cx="538.3" cy="204.3" r="2.15"/><circle cx="540.4" cy="186.4" r="2.15"/><circle cx="543.4" cy="193.1" r="2.15"/><circle cx="541.4" cy="173.2" r="2.15"/><circle cx="535.3" cy="172.1" r="2.15"/><circle cx="544.5" cy="224.2" r="2.15"/><circle cx="506.7" cy="215.2" r="2.15"/><circle cx="505.6" cy="219.3" r="2.15"/><circle cx="511.8" cy="210.1" r="2.15"/><circle cx="492.4" cy="223.9" r="2.15"/><circle cx="492.9" cy="228.5" r="2.15"/><circle cx="489.8" cy="230.5" r="2.15"/><circle cx="497.0" cy="236.7" r="2.15"/><circle cx="512.3" cy="224.4" r="2.15"/><circle cx="516.9" cy="222.4" r="2.15"/><circle cx="515.3" cy="228.0" r="2.15"/><circle cx="522.0" cy="227.0" r="2.15"/><circle cx="517.4" cy="232.1" r="2.15"/><circle cx="512.8" cy="237.7" r="2.15"/><circle cx="510.2" cy="245.3" r="2.15"/><circle cx="501.5" cy="248.9" r="2.15"/><circle cx="491.3" cy="246.9" r="2.15"/><circle cx="483.7" cy="247.9" r="2.15"/><circle cx="487.2" cy="252.5" r="2.15"/><circle cx="484.2" cy="253.5" r="2.15"/><circle cx="485.2" cy="258.6" r="2.15"/><circle cx="489.3" cy="259.1" r="2.15"/><circle cx="533.7" cy="232.6" r="2.15"/><circle cx="545.5" cy="224.4" r="2.15"/><circle cx="477.0" cy="241.8" r="2.15"/><circle cx="480.1" cy="234.6" r="2.15"/><circle cx="553.2" cy="146.0" r="2.15"/><circle cx="579.6" cy="185.9" r="2.15"/><circle cx="571.6" cy="189.1" r="2.15"/><circle cx="546.0" cy="192.5" r="2.15"/><circle cx="548.8" cy="223.8" r="2.15"/><circle cx="564.0" cy="248.5" r="2.15"/><circle cx="577.9" cy="253.8" r="2.15"/><circle cx="548.8" cy="258.4" r="2.15"/><circle cx="494.6" cy="173.3" r="2.15"/><circle cx="495.8" cy="180.7" r="2.15"/><circle cx="486.1" cy="182.2" r="2.15"/><circle cx="479.9" cy="186.8" r="2.15"/><circle cx="482.5" cy="186.3" r="2.15"/><circle cx="481.5" cy="189.9" r="2.15"/><circle cx="474.8" cy="193.9" r="2.15"/><circle cx="477.9" cy="193.9" r="2.15"/><circle cx="487.1" cy="197.5" r="2.15"/><circle cx="453.9" cy="205.5" r="2.15"/><circle cx="455.4" cy="217.4" r="2.15"/><circle cx="463.6" cy="218.5" r="2.15"/><circle cx="504.5" cy="157.7" r="2.15"/><circle cx="505.5" cy="174.5" r="2.15"/><circle cx="503.4" cy="178.6" r="2.15"/><circle cx="504.0" cy="186.3" r="2.15"/></g>
<path d="M431.2,259.9 C434.3,257.4 444.0,249.6 450.0,244.7 C456.0,239.8 463.1,234.1 467.5,230.7 C471.9,227.3 473.4,226.6 476.3,224.2 C479.2,221.8 482.1,218.9 485.0,216.3 C487.9,213.7 490.9,211.1 493.8,208.8 C496.7,206.5 499.9,204.3 502.6,202.3 C505.3,200.3 506.4,199.4 510.0,197.0 C513.6,194.6 518.0,191.5 524.0,187.9 C530.0,184.3 534.3,182.0 546.0,175.2 C557.7,168.4 575.0,158.0 594.0,147.1 C613.0,136.3 648.9,116.3 659.9,110.1" fill="none" stroke="#000" stroke-width="2.6" stroke-linejoin="round"/>
<line x1="415.50" y1="270.94" x2="676.10" y2="81.26" stroke="#000" stroke-width="1.3" />
<rect x="53.30" y="45.76" width="260.35" height="230.24" fill="none" stroke="#000" stroke-width="1.2"/>
<line x1="60.00" y1="276.00" x2="60.00" y2="284.50" stroke="#111" stroke-width="1.15" />
<line x1="60.00" y1="45.76" x2="60.00" y2="37.26" stroke="#111" stroke-width="1.15" />
<text x="60.00" y="302.50" text-anchor="middle" font-size="14.27" fill="#000">0</text>
<line x1="116.00" y1="276.00" x2="116.00" y2="284.50" stroke="#111" stroke-width="1.15" />
<line x1="116.00" y1="45.76" x2="116.00" y2="37.26" stroke="#111" stroke-width="1.15" />
<text x="116.00" y="302.50" text-anchor="middle" font-size="14.27" fill="#000">1</text>
<line x1="172.00" y1="276.00" x2="172.00" y2="284.50" stroke="#111" stroke-width="1.15" />
<line x1="172.00" y1="45.76" x2="172.00" y2="37.26" stroke="#111" stroke-width="1.15" />
<text x="172.00" y="302.50" text-anchor="middle" font-size="14.27" fill="#000">2</text>
<line x1="228.00" y1="276.00" x2="228.00" y2="284.50" stroke="#111" stroke-width="1.15" />
<line x1="228.00" y1="45.76" x2="228.00" y2="37.26" stroke="#111" stroke-width="1.15" />
<text x="228.00" y="302.50" text-anchor="middle" font-size="14.27" fill="#000">3</text>
<line x1="284.00" y1="276.00" x2="284.00" y2="284.50" stroke="#111" stroke-width="1.15" />
<line x1="284.00" y1="45.76" x2="284.00" y2="37.26" stroke="#111" stroke-width="1.15" />
<text x="284.00" y="302.50" text-anchor="middle" font-size="14.27" fill="#000">4</text>
<line x1="53.30" y1="263.30" x2="44.80" y2="263.30" stroke="#111" stroke-width="1.15" />
<line x1="313.65" y1="263.30" x2="322.15" y2="263.30" stroke="#111" stroke-width="1.15" />
<text x="36.80" y="268.40" text-anchor="end" font-size="14.27" fill="#000">0</text>
<line x1="53.30" y1="222.54" x2="44.80" y2="222.54" stroke="#111" stroke-width="1.15" />
<line x1="313.65" y1="222.54" x2="322.15" y2="222.54" stroke="#111" stroke-width="1.15" />
<text x="36.80" y="227.64" text-anchor="end" font-size="14.27" fill="#000">1</text>
<line x1="53.30" y1="181.78" x2="44.80" y2="181.78" stroke="#111" stroke-width="1.15" />
<line x1="313.65" y1="181.78" x2="322.15" y2="181.78" stroke="#111" stroke-width="1.15" />
<text x="36.80" y="186.88" text-anchor="end" font-size="14.27" fill="#000">2</text>
<line x1="53.30" y1="141.02" x2="44.80" y2="141.02" stroke="#111" stroke-width="1.15" />
<line x1="313.65" y1="141.02" x2="322.15" y2="141.02" stroke="#111" stroke-width="1.15" />
<text x="36.80" y="146.12" text-anchor="end" font-size="14.27" fill="#000">3</text>
<line x1="53.30" y1="100.26" x2="44.80" y2="100.26" stroke="#111" stroke-width="1.15" />
<line x1="313.65" y1="100.26" x2="322.15" y2="100.26" stroke="#111" stroke-width="1.15" />
<text x="36.80" y="105.36" text-anchor="end" font-size="14.27" fill="#000">4</text>
<line x1="53.30" y1="59.50" x2="44.80" y2="59.50" stroke="#111" stroke-width="1.15" />
<line x1="313.65" y1="59.50" x2="322.15" y2="59.50" stroke="#111" stroke-width="1.15" />
<text x="36.80" y="64.60" text-anchor="end" font-size="14.27" fill="#000">5</text>
<rect x="415.50" y="45.60" width="260.60" height="230.40" fill="none" stroke="#000" stroke-width="1.2"/>
<line x1="426.00" y1="276.00" x2="426.00" y2="284.50" stroke="#111" stroke-width="1.15" />
<line x1="426.00" y1="45.60" x2="426.00" y2="37.10" stroke="#111" stroke-width="1.15" />
<text x="426.00" y="302.50" text-anchor="middle" font-size="14.27" fill="#000">0</text>
<line x1="482.00" y1="276.00" x2="482.00" y2="284.50" stroke="#111" stroke-width="1.15" />
<line x1="482.00" y1="45.60" x2="482.00" y2="37.10" stroke="#111" stroke-width="1.15" />
<text x="482.00" y="302.50" text-anchor="middle" font-size="14.27" fill="#000">1</text>
<line x1="538.00" y1="276.00" x2="538.00" y2="284.50" stroke="#111" stroke-width="1.15" />
<line x1="538.00" y1="45.60" x2="538.00" y2="37.10" stroke="#111" stroke-width="1.15" />
<text x="538.00" y="302.50" text-anchor="middle" font-size="14.27" fill="#000">2</text>
<line x1="594.00" y1="276.00" x2="594.00" y2="284.50" stroke="#111" stroke-width="1.15" />
<line x1="594.00" y1="45.60" x2="594.00" y2="37.10" stroke="#111" stroke-width="1.15" />
<text x="594.00" y="302.50" text-anchor="middle" font-size="14.27" fill="#000">3</text>
<line x1="650.00" y1="276.00" x2="650.00" y2="284.50" stroke="#111" stroke-width="1.15" />
<line x1="650.00" y1="45.60" x2="650.00" y2="37.10" stroke="#111" stroke-width="1.15" />
<text x="650.00" y="302.50" text-anchor="middle" font-size="14.27" fill="#000">4</text>
<line x1="415.50" y1="263.30" x2="407.00" y2="263.30" stroke="#111" stroke-width="1.15" />
<line x1="676.10" y1="263.30" x2="684.60" y2="263.30" stroke="#111" stroke-width="1.15" />
<text x="399.00" y="268.40" text-anchor="end" font-size="14.27" fill="#000">0</text>
<line x1="415.50" y1="222.54" x2="407.00" y2="222.54" stroke="#111" stroke-width="1.15" />
<line x1="676.10" y1="222.54" x2="684.60" y2="222.54" stroke="#111" stroke-width="1.15" />
<text x="399.00" y="227.64" text-anchor="end" font-size="14.27" fill="#000">1</text>
<line x1="415.50" y1="181.78" x2="407.00" y2="181.78" stroke="#111" stroke-width="1.15" />
<line x1="676.10" y1="181.78" x2="684.60" y2="181.78" stroke="#111" stroke-width="1.15" />
<text x="399.00" y="186.88" text-anchor="end" font-size="14.27" fill="#000">2</text>
<line x1="415.50" y1="141.02" x2="407.00" y2="141.02" stroke="#111" stroke-width="1.15" />
<line x1="676.10" y1="141.02" x2="684.60" y2="141.02" stroke="#111" stroke-width="1.15" />
<text x="399.00" y="146.12" text-anchor="end" font-size="14.27" fill="#000">3</text>
<line x1="415.50" y1="100.26" x2="407.00" y2="100.26" stroke="#111" stroke-width="1.15" />
<line x1="676.10" y1="100.26" x2="684.60" y2="100.26" stroke="#111" stroke-width="1.15" />
<text x="399.00" y="105.36" text-anchor="end" font-size="14.27" fill="#000">4</text>
<line x1="415.50" y1="59.50" x2="407.00" y2="59.50" stroke="#111" stroke-width="1.15" />
<line x1="676.10" y1="59.50" x2="684.60" y2="59.50" stroke="#111" stroke-width="1.15" />
<text x="399.00" y="64.60" text-anchor="end" font-size="14.27" fill="#000">5</text>
<text x="183.50" y="12.60" text-anchor="middle" font-size="14.27" fill="#000">Observation vs pop. prediction</text>
<text x="545.80" y="12.60" text-anchor="middle" font-size="14.27" fill="#000">Observation vs ind. prediction</text>
<text x="184.00" y="330.00" text-anchor="middle" font-size="14.27" fill="#000">Population prediction (mg/L)</text>
<text x="546.00" y="330.00" text-anchor="middle" font-size="14.27" fill="#000">Individual prediction (mg/L)</text>
<text x="12.30" y="160.80" text-anchor="middle" font-size="14.27" fill="#000" transform="rotate(-90 12.30 160.80)">Observed concentration (mg/L)</text>
<text x="374.50" y="160.80" text-anchor="middle" font-size="14.27" fill="#000" transform="rotate(-90 374.50 160.80)">Observed concentration (mg/L)</text>
<path d="M138.8,421.2 L145.0,470.0 L155.0,500.0 L160.0,530.0 M179.0,426.0 L189.7,470.2 L192.0,500.0 M162.9,455.4 L161.0,484.4 L158.0,520.0 M138.1,457.9 L139.8,466.8 L140.0,510.0 M132.7,463.4 L133.0,515.0 M77.1,484.2 L128.8,517.1 M83.4,494.3 L118.0,520.5 M77.1,497.5 L133.1,513.7 M89.5,517.1 L110.0,524.6 L125.0,540.0 M112.6,474.0 L123.6,482.5 L135.0,510.0 M261.4,528.5 L272.8,567.9 L297.9,605.8 L240.6,623.7 M265.6,548.9 L235.2,542.6 M233.7,491.1 L238.7,495.3 L213.4,510.4 M233.7,491.1 L233.7,530.0 L233.3,582.1 L232.4,608.7 M202.6,470.0 L204.5,489.9 L205.0,520.0 M190.6,470.0 L197.3,482.0 L199.0,520.0 M126.5,563.5 L120.8,574.9 L135.0,587.2 L130.8,599.6 L148.7,594.4 M156.8,603.4 L158.7,608.1 L161.6,611.9 M233.3,582.1 L210.3,568.9 L229.5,540.7 L224.8,539.8 L217.2,540.7 M176.3,586.0 L158.9,561.1 L146.7,576.4 L153.3,588.4 L139.5,540.3 L120.8,574.9 M187.5,558.5 L198.8,570.8 L187.1,571.7 M207.2,559.8 L200.4,580.2 L185.8,533.3 L206.5,567.9 L180.7,539.3 L167.6,521.5 M201.8,540.9 L200.7,561.6 L181.3,590.3 L182.2,584.0 L191.8,602.6 M145.3,560.9 L143.4,566.6 L168.1,554.2 L171.0,502.7 M198.0,497.0 L196.3,532.4 L189.9,524.9 M156.3,577.8 L159.7,558.3 L181.1,521.2 L166.2,509.9 M153.0,526.7 L160.9,509.7 L150.2,521.8 L144.2,550.8 M201.9,596.2 L187.1,571.7 L201.5,595.0 L190.2,573.6 L191.8,602.6 L172.7,570.8 M195.2,545.2 L185.8,533.3 L194.4,504.0 L200.7,510.4 L224.8,539.8 M193.1,510.4 L218.3,512.8 L208.1,511.9 M223.3,565.4 L217.5,581.5 L196.4,596.9 M175.8,545.6 L181.1,521.2 L186.5,489.3 L158.2,498.1 L141.8,524.4 L148.7,512.9 M147.2,508.4 L165.1,547.9 L141.0,540.3 M169.6,544.9 L141.0,540.3 L155.9,502.8 L163.5,525.3 L157.0,530.5 L157.3,523.8 M184.6,543.1 L187.5,558.5 L188.7,532.1 M200.7,561.6 L199.2,611.3 L200.4,580.2 L173.2,604.4 M143.8,551.0 L140.3,508.5 L155.7,531.3 L141.8,524.4 L146.7,576.4 M139.5,540.3 L142.6,573.0 L143.9,534.3 L145.3,566.6 L148.6,518.6 L151.5,538.3 M214.4,609.4 L184.3,612.4 L172.3,586.2 L176.3,580.0 L158.7,608.1 M164.4,515.2 L166.6,558.4 L155.9,556.2 M175.8,545.6 L185.2,503.7 L158.2,498.1 L171.0,502.7 M157.3,523.3 L159.7,558.3 L179.3,576.2 L168.1,554.2 L148.7,594.4 L153.3,578.0 M157.0,530.5 L178.5,512.9 L175.6,555.1 M222.0,532.3 L217.2,567.8 L233.7,530.0 L238.1,555.3 L222.6,545.7 M141.7,589.5 L152.7,590.7 L146.7,576.4 M154.0,533.7 L134.1,565.4 L126.8,562.0 L133.4,551.2 M148.4,602.2 L152.7,590.7 L166.2,550.9 L171.0,502.7 M141.2,507.4 L157.3,523.3 L172.2,524.1 L146.6,512.8 L155.9,502.8 L157.3,546.5 M155.0,511.4 L166.2,509.9 L151.4,532.0 L151.3,579.9 L150.8,552.0 L134.1,577.8 M185.2,509.7 L200.7,510.4 L187.2,525.4 L185.8,533.3 L166.6,558.4 L163.2,564.3 M220.1,572.6 L200.4,580.2 L221.4,553.5 L207.7,514.1 L189.9,524.9 L187.5,558.5 M155.9,502.8 L181.4,511.3 L158.2,498.1 L157.3,523.3 L167.7,497.3 M175.8,545.6 L149.6,554.2 L167.2,529.4 L144.2,550.8 L163.5,525.3 M163.5,525.3 L147.2,508.4 L158.9,494.7 L157.3,523.8 L140.3,508.5 M120.4,527.4 L141.8,524.4 L143.4,566.6 L157.3,582.7 L163.0,574.3 M155.9,556.2 L176.0,578.8 L183.1,539.1 L159.3,522.3 L146.8,553.6 M167.3,582.5 L163.2,564.3 L186.4,594.8 L187.1,571.7 M137.1,581.8 L144.2,550.8 L159.7,558.3 L162.1,591.8 M153.5,577.8 L135.6,593.2 L165.0,589.9 L153.3,578.0 L149.6,554.2 L147.2,508.4 M222.9,595.8 L214.6,559.1 L218.2,585.3 L202.0,572.2 L186.9,604.4 L170.0,586.1 M201.9,596.2 L214.0,596.3 L236.8,582.5 L223.3,565.4 M193.2,527.7 L187.2,503.0 L167.7,497.3 L177.1,505.3 M182.4,570.2 L165.0,590.0 L173.0,606.2 L152.8,590.5 M181.4,544.6 L208.9,541.5 L206.2,588.6 L201.0,582.1 L200.4,580.2 M139.5,540.3 L154.0,553.6 L168.3,512.9 L165.1,547.9 L155.9,502.8 L174.1,546.5 M220.6,520.9 L200.7,510.4 L205.4,497.8 L198.0,497.0 M167.3,582.5 L148.7,594.4 L158.9,547.9 L143.8,551.0 L157.3,546.5 L163.2,564.3 M149.8,501.6 L158.9,494.7 L187.2,509.5 M154.0,553.6 L163.0,574.3 L142.6,589.1 M153.6,501.9 L153.5,555.9 L132.0,538.6 L143.8,551.0 L160.0,534.6 M153.3,588.4 L135.0,587.2 L158.7,608.1 L173.0,606.2 L153.3,578.0 L145.1,540.1 M205.1,561.2 L207.7,514.1 L225.4,529.3 L222.0,532.3 M142.6,589.1 L158.2,586.9 L146.4,574.7 L125.1,563.6 L136.8,542.1 L134.1,577.8 M198.0,497.0 L188.3,521.0 L173.4,561.9 L186.9,604.4 L211.5,584.4 L233.3,582.1 M165.3,548.5 L155.0,511.4 L167.7,551.2 L163.9,568.4 L156.5,609.7 M170.7,588.1 L166.0,597.1 L173.4,561.9 L165.3,512.1 M167.7,551.2 L158.7,502.7 L156.9,525.7 L159.3,522.3 L140.1,523.7 L123.7,549.5 M158.9,547.9 L181.9,570.4 L177.0,536.8 L155.9,556.2 L174.7,552.2 L166.2,550.9 M160.0,534.6 L141.0,540.3 L133.0,568.1 L142.6,589.1 L136.9,572.0 L140.0,534.7 M148.6,518.6 L161.9,516.7 L160.0,534.6 L141.7,498.3 L157.3,523.8 M149.6,554.2 L133.5,563.1 L123.7,549.5 L139.5,540.3 L133.0,568.1 M133.4,551.2 L152.8,590.5 L173.3,561.7 L178.5,512.9 L187.5,558.5 M186.9,604.4 L181.3,590.3 L153.3,588.4 L161.6,611.9 L173.9,571.9 L201.5,595.0 M126.8,562.0 L140.0,534.7 L166.6,558.4 L175.8,545.6 L164.4,515.2 M190.1,610.1 L172.0,610.0 L153.5,577.8 M202.0,572.2 L181.9,570.4 L204.7,568.7 L176.3,580.0 M134.1,565.4 L142.6,573.0 L146.4,574.7 L156.8,603.4 L173.0,606.2 L153.3,578.0 M196.3,532.4 L181.1,521.2 L185.4,515.3 M222.0,532.3 L208.1,511.9 L187.2,509.5 L163.5,525.3 L153.0,526.7 L140.1,523.7 M146.6,512.8 L166.2,550.9 L145.1,581.8 M170.7,588.1 L162.1,591.0 L143.4,566.6 L166.0,597.1 L156.3,577.8 M160.0,534.6 L146.8,553.6 L134.1,565.4 L145.1,540.1 M177.1,505.3 L181.1,521.2 L199.7,528.5 L181.4,511.3 M139.3,578.4 L163.4,570.8 L165.0,590.0 L152.7,590.7 L176.3,586.0 M135.6,593.2 L163.4,570.8 L141.7,583.8 L156.8,603.4 L152.7,590.7 L179.4,595.8 M210.1,559.4 L220.1,572.6 L199.3,563.7 M192.5,517.6 L187.2,509.5 L166.2,509.9 L169.5,497.4 L171.0,502.7 M214.4,609.4 L217.2,567.8 L196.3,532.4 L201.9,542.0 M233.3,582.1 L211.2,578.0 L203.9,610.6 L181.5,606.9 M167.7,551.2 L148.6,518.6 L167.7,497.3 M156.8,603.4 L137.1,581.8 L135.0,587.2 M192.5,517.6 L168.3,512.9 L174.1,546.5 M176.0,578.8 L189.0,610.3 L166.6,600.2 L181.3,590.3 L153.5,595.2 L137.4,594.9 M166.4,518.8 L187.5,558.5 L186.9,604.4 L189.0,610.3 L185.1,588.2 M181.4,601.4 L174.7,552.2 L202.5,531.9 M165.7,572.0 L171.1,520.9 L158.7,502.7 L147.2,508.4 L166.2,509.9 M156.9,525.7 L142.8,538.4 L153.6,538.2 L153.8,502.2 L155.0,511.4 L178.5,512.9 M146.4,574.7 L145.3,560.9 L133.0,568.1 M208.1,511.9 L199.0,547.9 L175.6,555.1 L151.5,538.3 L149.6,554.2 L176.0,578.8 M149.1,584.8 L166.6,558.4 L143.8,551.0 M189.9,600.7 L217.5,581.5 L201.5,577.9 L214.4,609.4 M182.2,584.0 L172.0,610.0 L175.6,595.2 M204.9,509.1 L201.8,540.9 L203.6,554.6 L200.1,517.1 M160.9,509.7 L167.6,521.5 L167.7,551.2 L190.2,573.6 L204.1,558.3 M158.7,502.7 L137.3,534.4 L146.7,576.4 L150.2,521.8 L167.8,498.9 M170.7,588.1 L163.9,568.4 L140.6,590.4 L142.6,589.1 L143.4,566.6 M156.3,577.8 L175.6,555.1 L174.1,546.5 L173.9,571.9 M139.5,540.3 L126.8,562.0 L154.0,553.6 M201.9,596.2 L205.1,561.2 L217.2,540.7 M218.3,512.8 L198.0,497.0 L189.9,524.9 L187.1,571.7 L175.8,545.6 M234.3,590.1 L219.1,609.0 L200.4,580.2 L190.1,610.1 L178.8,595.6 L187.5,558.5 M172.2,524.1 L185.2,503.7 L163.5,525.3 L190.1,503.2 M153.5,555.9 L163.2,564.3 L146.7,576.4 L146.4,574.7 M134.1,577.8 L132.0,538.6 L142.6,573.0 L162.1,591.8 M161.9,516.7 L153.9,536.3 L143.8,551.0 L162.1,591.0 L165.1,547.9 L174.1,546.5 M141.0,540.3 L159.7,520.9 L153.6,538.2 L157.3,546.5 L159.3,522.3 L154.2,508.3 M156.9,525.7 L147.2,508.4 L161.9,516.7 L177.4,502.9 M170.0,586.1 L156.5,609.7 L181.5,606.9 L200.4,580.2 M200.5,544.1 L204.9,509.1 L175.6,498.5 L200.7,510.4 L222.6,545.7 M174.4,518.7 L172.7,570.8 L146.7,576.4 L126.8,562.0 L129.8,562.0 L153.9,536.3 M217.2,540.7 L214.6,559.1 L204.7,568.7 L223.3,565.4 L198.9,544.1 L185.1,588.2 M151.4,532.0 L141.2,507.4 L161.9,516.7 L190.1,503.2 M155.7,531.3 L178.5,512.9 L159.7,520.9 M158.9,494.7 L183.3,515.1 L201.9,542.0 M185.1,588.2 L166.0,597.1 L181.4,601.4 M141.2,507.4 L167.2,529.4 L183.3,515.1 M175.6,555.1 L197.3,521.8 L199.7,528.5 L211.2,578.0 L191.5,590.6 M220.1,572.6 L206.5,567.9 L218.8,533.3 L222.6,545.7 L207.7,514.1 L194.4,504.0 " fill="none" stroke="#9a9a9a" stroke-width="0.8" stroke-dasharray="2,2.3"/>
<g fill="#999999"><circle cx="198.0" cy="497.0" r="2.15"/><circle cx="145.1" cy="581.8" r="2.15"/><circle cx="204.7" cy="568.7" r="2.15"/><circle cx="180.7" cy="539.3" r="2.15"/><circle cx="142.6" cy="507.7" r="2.15"/><circle cx="219.6" cy="567.2" r="2.15"/><circle cx="211.2" cy="578.0" r="2.15"/><circle cx="193.0" cy="508.0" r="2.15"/><circle cx="157.3" cy="523.8" r="2.15"/><circle cx="153.8" cy="502.2" r="2.15"/><circle cx="181.9" cy="570.4" r="2.15"/><circle cx="141.0" cy="540.3" r="2.15"/><circle cx="170.0" cy="586.1" r="2.15"/><circle cx="201.5" cy="595.0" r="2.15"/><circle cx="176.3" cy="586.0" r="2.15"/><circle cx="161.6" cy="561.9" r="2.15"/><circle cx="161.9" cy="516.7" r="2.15"/><circle cx="140.6" cy="590.4" r="2.15"/><circle cx="139.5" cy="540.3" r="2.15"/><circle cx="179.4" cy="595.8" r="2.15"/><circle cx="179.3" cy="576.2" r="2.15"/><circle cx="201.9" cy="542.0" r="2.15"/><circle cx="137.4" cy="594.9" r="2.15"/><circle cx="167.7" cy="497.3" r="2.15"/><circle cx="153.9" cy="536.3" r="2.15"/><circle cx="181.4" cy="511.3" r="2.15"/><circle cx="204.0" cy="591.3" r="2.15"/><circle cx="189.9" cy="600.7" r="2.15"/><circle cx="141.7" cy="589.5" r="2.15"/><circle cx="165.0" cy="590.0" r="2.15"/><circle cx="141.2" cy="507.4" r="2.15"/><circle cx="199.7" cy="528.5" r="2.15"/><circle cx="174.1" cy="546.5" r="2.15"/><circle cx="150.5" cy="502.9" r="2.15"/><circle cx="174.4" cy="518.7" r="2.15"/><circle cx="185.8" cy="533.3" r="2.15"/><circle cx="145.3" cy="560.9" r="2.15"/><circle cx="181.3" cy="521.8" r="2.15"/><circle cx="185.2" cy="503.7" r="2.15"/><circle cx="181.5" cy="606.9" r="2.15"/><circle cx="178.8" cy="595.6" r="2.15"/><circle cx="163.4" cy="570.8" r="2.15"/><circle cx="143.9" cy="534.3" r="2.15"/><circle cx="146.4" cy="574.7" r="2.15"/><circle cx="169.5" cy="497.4" r="2.15"/><circle cx="211.9" cy="538.3" r="2.15"/><circle cx="173.9" cy="571.9" r="2.15"/><circle cx="214.8" cy="577.6" r="2.15"/><circle cx="155.7" cy="531.3" r="2.15"/><circle cx="165.0" cy="589.9" r="2.15"/><circle cx="168.1" cy="554.2" r="2.15"/><circle cx="162.6" cy="509.3" r="2.15"/><circle cx="149.9" cy="538.3" r="2.15"/><circle cx="158.1" cy="503.5" r="2.15"/><circle cx="148.4" cy="602.2" r="2.15"/><circle cx="149.1" cy="584.8" r="2.15"/><circle cx="181.4" cy="544.6" r="2.15"/><circle cx="198.9" cy="544.1" r="2.15"/><circle cx="188.3" cy="521.0" r="2.15"/><circle cx="182.2" cy="584.0" r="2.15"/><circle cx="200.7" cy="561.6" r="2.15"/><circle cx="221.4" cy="553.5" r="2.15"/><circle cx="207.7" cy="514.1" r="2.15"/><circle cx="210.1" cy="559.4" r="2.15"/><circle cx="126.8" cy="562.0" r="2.15"/><circle cx="171.0" cy="502.7" r="2.15"/><circle cx="157.3" cy="546.5" r="2.15"/><circle cx="187.2" cy="525.4" r="2.15"/><circle cx="192.5" cy="517.6" r="2.15"/><circle cx="158.7" cy="502.7" r="2.15"/><circle cx="166.4" cy="518.8" r="2.15"/><circle cx="152.8" cy="590.5" r="2.15"/><circle cx="165.3" cy="548.5" r="2.15"/><circle cx="160.0" cy="534.6" r="2.15"/><circle cx="195.2" cy="545.2" r="2.15"/><circle cx="136.8" cy="542.1" r="2.15"/><circle cx="145.3" cy="566.6" r="2.15"/><circle cx="201.8" cy="529.4" r="2.15"/><circle cx="184.3" cy="612.4" r="2.15"/><circle cx="172.2" cy="524.1" r="2.15"/><circle cx="187.5" cy="558.5" r="2.15"/><circle cx="208.9" cy="541.5" r="2.15"/><circle cx="133.0" cy="568.1" r="2.15"/><circle cx="199.3" cy="563.7" r="2.15"/><circle cx="183.1" cy="539.1" r="2.15"/><circle cx="172.7" cy="570.8" r="2.15"/><circle cx="153.6" cy="538.2" r="2.15"/><circle cx="201.0" cy="582.1" r="2.15"/><circle cx="162.1" cy="591.8" r="2.15"/><circle cx="198.4" cy="509.0" r="2.15"/><circle cx="147.2" cy="508.4" r="2.15"/><circle cx="220.1" cy="572.6" r="2.15"/><circle cx="186.5" cy="489.3" r="2.15"/><circle cx="158.2" cy="586.9" r="2.15"/><circle cx="188.7" cy="532.1" r="2.15"/><circle cx="176.3" cy="580.0" r="2.15"/><circle cx="159.7" cy="558.3" r="2.15"/><circle cx="196.3" cy="532.4" r="2.15"/><circle cx="219.6" cy="575.5" r="2.15"/><circle cx="167.6" cy="521.5" r="2.15"/><circle cx="201.9" cy="596.2" r="2.15"/><circle cx="153.0" cy="526.7" r="2.15"/><circle cx="157.3" cy="582.7" r="2.15"/><circle cx="191.5" cy="590.6" r="2.15"/><circle cx="142.8" cy="538.4" r="2.15"/><circle cx="202.5" cy="531.9" r="2.15"/><circle cx="154.0" cy="533.7" r="2.15"/><circle cx="173.4" cy="561.9" r="2.15"/><circle cx="204.9" cy="509.1" r="2.15"/><circle cx="145.9" cy="602.8" r="2.15"/><circle cx="156.3" cy="577.8" r="2.15"/><circle cx="165.1" cy="547.9" r="2.15"/><circle cx="193.2" cy="527.7" r="2.15"/><circle cx="193.0" cy="584.0" r="2.15"/><circle cx="203.6" cy="554.6" r="2.15"/><circle cx="182.4" cy="570.2" r="2.15"/><circle cx="199.0" cy="547.9" r="2.15"/><circle cx="139.3" cy="578.4" r="2.15"/><circle cx="140.2" cy="584.4" r="2.15"/><circle cx="210.1" cy="519.2" r="2.15"/><circle cx="160.9" cy="509.7" r="2.15"/><circle cx="206.5" cy="567.9" r="2.15"/><circle cx="222.6" cy="545.7" r="2.15"/><circle cx="146.7" cy="576.4" r="2.15"/><circle cx="185.1" cy="588.2" r="2.15"/><circle cx="148.6" cy="518.6" r="2.15"/><circle cx="207.2" cy="559.8" r="2.15"/><circle cx="133.5" cy="563.1" r="2.15"/><circle cx="158.9" cy="547.9" r="2.15"/><circle cx="153.5" cy="595.2" r="2.15"/><circle cx="165.7" cy="572.0" r="2.15"/><circle cx="177.4" cy="502.9" r="2.15"/><circle cx="166.2" cy="550.9" r="2.15"/><circle cx="178.5" cy="512.9" r="2.15"/><circle cx="181.4" cy="601.4" r="2.15"/><circle cx="218.6" cy="561.5" r="2.15"/><circle cx="186.8" cy="608.0" r="2.15"/><circle cx="181.1" cy="521.2" r="2.15"/><circle cx="214.6" cy="559.1" r="2.15"/><circle cx="200.7" cy="510.4" r="2.15"/><circle cx="163.0" cy="574.3" r="2.15"/><circle cx="132.0" cy="538.6" r="2.15"/><circle cx="134.1" cy="577.8" r="2.15"/><circle cx="187.1" cy="571.7" r="2.15"/><circle cx="189.0" cy="610.3" r="2.15"/><circle cx="165.9" cy="553.3" r="2.15"/><circle cx="167.2" cy="529.4" r="2.15"/><circle cx="155.9" cy="556.2" r="2.15"/><circle cx="201.5" cy="577.9" r="2.15"/><circle cx="185.2" cy="509.7" r="2.15"/><circle cx="163.5" cy="525.3" r="2.15"/><circle cx="190.1" cy="610.1" r="2.15"/><circle cx="150.8" cy="552.0" r="2.15"/><circle cx="159.3" cy="522.3" r="2.15"/><circle cx="154.0" cy="553.6" r="2.15"/><circle cx="202.2" cy="592.7" r="2.15"/><circle cx="175.8" cy="545.6" r="2.15"/><circle cx="166.0" cy="597.1" r="2.15"/><circle cx="157.3" cy="523.3" r="2.15"/><circle cx="177.0" cy="536.8" r="2.15"/><circle cx="168.5" cy="520.7" r="2.15"/><circle cx="176.0" cy="578.8" r="2.15"/><circle cx="194.4" cy="504.0" r="2.15"/><circle cx="217.2" cy="567.8" r="2.15"/><circle cx="168.3" cy="512.9" r="2.15"/><circle cx="129.8" cy="562.0" r="2.15"/><circle cx="166.2" cy="509.9" r="2.15"/><circle cx="140.3" cy="519.5" r="2.15"/><circle cx="163.9" cy="568.4" r="2.15"/><circle cx="177.1" cy="505.3" r="2.15"/><circle cx="135.6" cy="593.2" r="2.15"/><circle cx="137.1" cy="581.8" r="2.15"/><circle cx="154.2" cy="508.3" r="2.15"/><circle cx="223.3" cy="565.4" r="2.15"/><circle cx="190.2" cy="573.6" r="2.15"/><circle cx="198.8" cy="570.8" r="2.15"/><circle cx="140.1" cy="523.7" r="2.15"/><circle cx="173.2" cy="604.4" r="2.15"/><circle cx="205.4" cy="497.8" r="2.15"/><circle cx="167.3" cy="582.5" r="2.15"/><circle cx="213.4" cy="545.7" r="2.15"/><circle cx="143.8" cy="551.0" r="2.15"/><circle cx="151.3" cy="579.9" r="2.15"/><circle cx="169.6" cy="544.9" r="2.15"/><circle cx="202.0" cy="572.2" r="2.15"/><circle cx="153.5" cy="577.8" r="2.15"/><circle cx="200.5" cy="544.1" r="2.15"/><circle cx="203.6" cy="565.6" r="2.15"/><circle cx="181.7" cy="539.0" r="2.15"/><circle cx="206.2" cy="588.6" r="2.15"/><circle cx="166.6" cy="558.4" r="2.15"/><circle cx="149.8" cy="501.6" r="2.15"/><circle cx="154.7" cy="532.4" r="2.15"/><circle cx="141.7" cy="498.3" r="2.15"/><circle cx="167.7" cy="551.2" r="2.15"/><circle cx="172.3" cy="586.2" r="2.15"/><circle cx="177.5" cy="551.7" r="2.15"/><circle cx="151.5" cy="538.3" r="2.15"/><circle cx="140.0" cy="534.7" r="2.15"/><circle cx="204.1" cy="558.3" r="2.15"/><circle cx="187.2" cy="503.0" r="2.15"/><circle cx="217.5" cy="581.5" r="2.15"/><circle cx="166.6" cy="600.2" r="2.15"/><circle cx="141.8" cy="524.4" r="2.15"/><circle cx="125.1" cy="563.6" r="2.15"/><circle cx="141.7" cy="583.8" r="2.15"/><circle cx="183.3" cy="515.1" r="2.15"/><circle cx="157.0" cy="530.5" r="2.15"/><circle cx="201.8" cy="540.9" r="2.15"/><circle cx="200.4" cy="580.2" r="2.15"/><circle cx="151.4" cy="532.0" r="2.15"/><circle cx="162.1" cy="591.0" r="2.15"/><circle cx="123.7" cy="549.5" r="2.15"/><circle cx="190.1" cy="503.2" r="2.15"/><circle cx="153.3" cy="588.4" r="2.15"/><circle cx="186.4" cy="594.8" r="2.15"/><circle cx="165.3" cy="512.1" r="2.15"/><circle cx="156.5" cy="609.7" r="2.15"/><circle cx="218.8" cy="533.3" r="2.15"/><circle cx="205.5" cy="577.9" r="2.15"/><circle cx="145.1" cy="540.1" r="2.15"/><circle cx="170.7" cy="588.1" r="2.15"/><circle cx="181.6" cy="540.9" r="2.15"/><circle cx="177.5" cy="554.4" r="2.15"/><circle cx="201.9" cy="503.2" r="2.15"/><circle cx="167.8" cy="498.9" r="2.15"/><circle cx="132.8" cy="539.0" r="2.15"/><circle cx="152.7" cy="590.7" r="2.15"/><circle cx="175.6" cy="555.1" r="2.15"/><circle cx="191.8" cy="602.6" r="2.15"/><circle cx="174.7" cy="552.2" r="2.15"/><circle cx="184.6" cy="543.1" r="2.15"/><circle cx="156.9" cy="525.7" r="2.15"/><circle cx="196.4" cy="596.9" r="2.15"/><circle cx="176.4" cy="558.3" r="2.15"/><circle cx="146.8" cy="553.6" r="2.15"/><circle cx="158.9" cy="561.1" r="2.15"/><circle cx="189.1" cy="515.2" r="2.15"/><circle cx="146.6" cy="512.8" r="2.15"/><circle cx="205.1" cy="561.2" r="2.15"/><circle cx="153.5" cy="555.9" r="2.15"/><circle cx="153.3" cy="578.0" r="2.15"/><circle cx="181.3" cy="590.3" r="2.15"/><circle cx="144.2" cy="550.8" r="2.15"/><circle cx="222.1" cy="560.0" r="2.15"/><circle cx="149.6" cy="554.2" r="2.15"/><circle cx="218.3" cy="512.8" r="2.15"/><circle cx="137.3" cy="534.4" r="2.15"/><circle cx="185.4" cy="515.3" r="2.15"/><circle cx="163.2" cy="564.3" r="2.15"/><circle cx="133.4" cy="551.2" r="2.15"/><circle cx="158.9" cy="494.7" r="2.15"/><circle cx="186.9" cy="604.4" r="2.15"/><circle cx="210.3" cy="568.9" r="2.15"/><circle cx="189.9" cy="524.9" r="2.15"/><circle cx="175.6" cy="595.2" r="2.15"/><circle cx="143.4" cy="566.6" r="2.15"/><circle cx="173.3" cy="561.7" r="2.15"/><circle cx="173.0" cy="589.7" r="2.15"/><circle cx="208.1" cy="511.9" r="2.15"/><circle cx="138.8" cy="421.2" r="2.15"/><circle cx="179.0" cy="426.0" r="2.15"/><circle cx="162.9" cy="455.4" r="2.15"/><circle cx="138.1" cy="457.9" r="2.15"/><circle cx="132.7" cy="463.4" r="2.15"/><circle cx="139.8" cy="466.8" r="2.15"/><circle cx="112.6" cy="474.0" r="2.15"/><circle cx="145.6" cy="473.4" r="2.15"/><circle cx="157.2" cy="471.1" r="2.15"/><circle cx="189.7" cy="470.2" r="2.15"/><circle cx="77.1" cy="484.2" r="2.15"/><circle cx="83.4" cy="494.3" r="2.15"/><circle cx="77.1" cy="497.5" r="2.15"/><circle cx="123.6" cy="482.5" r="2.15"/><circle cx="161.0" cy="484.4" r="2.15"/><circle cx="176.8" cy="481.0" r="2.15"/><circle cx="181.9" cy="485.2" r="2.15"/><circle cx="174.9" cy="484.8" r="2.15"/><circle cx="143.0" cy="489.2" r="2.15"/><circle cx="152.5" cy="489.2" r="2.15"/><circle cx="169.7" cy="495.8" r="2.15"/><circle cx="175.6" cy="498.5" r="2.15"/><circle cx="158.2" cy="498.1" r="2.15"/><circle cx="153.6" cy="501.9" r="2.15"/><circle cx="155.9" cy="502.8" r="2.15"/><circle cx="140.3" cy="508.5" r="2.15"/><circle cx="133.1" cy="513.7" r="2.15"/><circle cx="148.7" cy="512.9" r="2.15"/><circle cx="155.0" cy="511.4" r="2.15"/><circle cx="166.3" cy="510.4" r="2.15"/><circle cx="175.8" cy="512.3" r="2.15"/><circle cx="187.2" cy="509.5" r="2.15"/><circle cx="89.5" cy="517.1" r="2.15"/><circle cx="128.8" cy="517.1" r="2.15"/><circle cx="118.0" cy="520.5" r="2.15"/><circle cx="123.3" cy="519.9" r="2.15"/><circle cx="130.8" cy="522.4" r="2.15"/><circle cx="110.0" cy="525.0" r="2.15"/><circle cx="120.2" cy="527.5" r="2.15"/><circle cx="137.9" cy="520.3" r="2.15"/><circle cx="150.2" cy="521.8" r="2.15"/><circle cx="159.7" cy="520.9" r="2.15"/><circle cx="171.1" cy="520.9" r="2.15"/><circle cx="164.4" cy="515.2" r="2.15"/><circle cx="110.0" cy="524.6" r="2.15"/><circle cx="120.4" cy="527.4" r="2.15"/><circle cx="111.9" cy="541.7" r="2.15"/><circle cx="126.5" cy="563.5" r="2.15"/><circle cx="120.8" cy="574.9" r="2.15"/><circle cx="134.1" cy="565.4" r="2.15"/><circle cx="136.9" cy="572.0" r="2.15"/><circle cx="142.6" cy="573.0" r="2.15"/><circle cx="142.6" cy="584.4" r="2.15"/><circle cx="135.0" cy="587.2" r="2.15"/><circle cx="142.6" cy="589.1" r="2.15"/><circle cx="138.4" cy="592.9" r="2.15"/><circle cx="130.8" cy="599.6" r="2.15"/><circle cx="148.7" cy="594.4" r="2.15"/><circle cx="156.8" cy="603.4" r="2.15"/><circle cx="158.7" cy="608.1" r="2.15"/><circle cx="161.6" cy="611.9" r="2.15"/><circle cx="171.1" cy="618.2" r="2.15"/><circle cx="172.0" cy="610.0" r="2.15"/><circle cx="173.0" cy="606.2" r="2.15"/><circle cx="190.6" cy="470.0" r="2.15"/><circle cx="202.6" cy="470.0" r="2.15"/><circle cx="209.6" cy="478.2" r="2.15"/><circle cx="197.3" cy="482.0" r="2.15"/><circle cx="204.5" cy="489.9" r="2.15"/><circle cx="199.6" cy="493.4" r="2.15"/><circle cx="207.2" cy="494.7" r="2.15"/><circle cx="233.7" cy="491.1" r="2.15"/><circle cx="238.7" cy="495.3" r="2.15"/><circle cx="233.7" cy="501.9" r="2.15"/><circle cx="213.4" cy="510.4" r="2.15"/><circle cx="204.5" cy="512.7" r="2.15"/><circle cx="193.1" cy="510.4" r="2.15"/><circle cx="187.4" cy="510.1" r="2.15"/><circle cx="220.6" cy="520.9" r="2.15"/><circle cx="224.8" cy="529.4" r="2.15"/><circle cx="222.0" cy="532.3" r="2.15"/><circle cx="233.7" cy="530.0" r="2.15"/><circle cx="238.1" cy="528.5" r="2.15"/><circle cx="261.4" cy="528.5" r="2.15"/><circle cx="200.1" cy="517.1" r="2.15"/><circle cx="197.3" cy="521.8" r="2.15"/><circle cx="225.4" cy="529.3" r="2.15"/><circle cx="265.6" cy="548.9" r="2.15"/><circle cx="272.8" cy="567.9" r="2.15"/><circle cx="297.9" cy="605.8" r="2.15"/><circle cx="240.6" cy="623.7" r="2.15"/><circle cx="210.6" cy="622.7" r="2.15"/><circle cx="191.2" cy="617.2" r="2.15"/><circle cx="232.4" cy="608.7" r="2.15"/><circle cx="219.1" cy="609.0" r="2.15"/><circle cx="214.4" cy="609.4" r="2.15"/><circle cx="203.9" cy="610.6" r="2.15"/><circle cx="199.2" cy="611.3" r="2.15"/><circle cx="222.9" cy="595.8" r="2.15"/><circle cx="214.0" cy="596.3" r="2.15"/><circle cx="234.3" cy="590.1" r="2.15"/><circle cx="233.3" cy="582.1" r="2.15"/><circle cx="236.8" cy="582.5" r="2.15"/><circle cx="218.2" cy="585.3" r="2.15"/><circle cx="211.5" cy="584.4" r="2.15"/><circle cx="238.1" cy="555.3" r="2.15"/><circle cx="233.0" cy="555.0" r="2.15"/><circle cx="223.9" cy="557.2" r="2.15"/><circle cx="227.7" cy="562.5" r="2.15"/><circle cx="232.4" cy="562.5" r="2.15"/><circle cx="224.8" cy="539.8" r="2.15"/><circle cx="229.5" cy="540.7" r="2.15"/><circle cx="227.7" cy="547.4" r="2.15"/><circle cx="217.2" cy="540.7" r="2.15"/><circle cx="216.3" cy="545.5" r="2.15"/></g>
<path d="M62.5,478.3 L313.9,478.3 M62.5,625.5 L313.9,625.5" stroke="#000" stroke-width="2.2" stroke-linecap="round" stroke-dasharray="6.6,10.6" fill="none"/>
<line x1="61.50" y1="551.90" x2="313.90" y2="551.90" stroke="#000" stroke-width="2.2" />
<path d="M62.0,539.4 C65.5,540.1 75.9,542.1 83.0,543.6 C90.1,545.1 97.3,547.0 104.7,548.3 C112.1,549.6 120.5,550.7 127.4,551.6 C134.3,552.5 140.6,552.8 146.4,553.6 C152.2,554.4 156.7,555.6 162.0,556.4 C167.3,557.2 171.7,558.0 178.0,558.6 C184.3,559.2 192.3,559.7 200.0,560.0 C207.7,560.3 215.7,560.4 224.0,560.2 C232.3,560.0 241.5,559.4 250.0,559.0 C258.5,558.6 266.7,557.9 275.0,557.8 C283.3,557.7 293.6,558.1 300.0,558.3 C306.4,558.5 311.2,558.8 313.4,558.9" fill="none" stroke="#000" stroke-width="2.6"/>
<path d="M437.6,418.8 L449.8,418.8 L487.1,433.3 L502.4,432.0 L515.5,435.9 L551.0,430.0 L588.1,425.5 L657.0,425.5 L657.0,505.0 L588.1,505.0 L551.0,494.5 L528.0,475.7 L517.4,469.0 L502.0,463.5 L483.6,465.2 L437.6,465.2Z" fill="#d9d9d9" fill-opacity="1"/>
<path d="M437.6,485.0 L487.0,486.0 L502.0,488.0 L515.0,491.8 L551.0,500.0 L588.1,488.3 L657.0,488.3 L657.0,551.4 L588.1,551.4 L551.0,539.0 L528.0,522.8 L518.9,516.3 L500.0,508.5 L437.6,507.7Z" fill="#d9d9d9" fill-opacity="1"/>
<path d="M437.6,533.1 L450.3,533.1 L488.8,543.3 L501.1,550.3 L516.0,559.0 L551.0,553.2 L588.1,537.8 L657.0,537.8 L657.0,607.1 L588.1,607.1 L551.0,624.5 L515.1,592.3 L501.1,585.3 L437.6,583.9Z" fill="#d9d9d9" fill-opacity="1"/>
<clipPath id="cu"><path d="M437.6,418.8 L449.8,418.8 L487.1,433.3 L502.4,432.0 L515.5,435.9 L551.0,430.0 L588.1,425.5 L657.0,425.5 L657.0,505.0 L588.1,505.0 L551.0,494.5 L528.0,475.7 L517.4,469.0 L502.0,463.5 L483.6,465.2 L437.6,465.2Z"/></clipPath>
<clipPath id="cl"><path d="M437.6,533.1 L450.3,533.1 L488.8,543.3 L501.1,550.3 L516.0,559.0 L551.0,553.2 L588.1,537.8 L657.0,537.8 L657.0,607.1 L588.1,607.1 L551.0,624.5 L515.1,592.3 L501.1,585.3 L437.6,583.9Z"/></clipPath>
<path d="M437.6,485.0 L487.0,486.0 L502.0,488.0 L515.0,491.8 L551.0,500.0 L588.1,488.3 L657.0,488.3 L657.0,551.4 L588.1,551.4 L551.0,539.0 L528.0,522.8 L518.9,516.3 L500.0,508.5 L437.6,507.7Z" fill="#bebebe" clip-path="url(#cu)"/>
<path d="M437.6,485.0 L487.0,486.0 L502.0,488.0 L515.0,491.8 L551.0,500.0 L588.1,488.3 L657.0,488.3 L657.0,551.4 L588.1,551.4 L551.0,539.0 L528.0,522.8 L518.9,516.3 L500.0,508.5 L437.6,507.7Z" fill="#bebebe" clip-path="url(#cl)"/>
<g fill="#4d4d4d"><circle cx="477.0" cy="421.5" r="2.2"/><circle cx="463.8" cy="433.3" r="2.2"/><circle cx="448.1" cy="438.1" r="2.2"/><circle cx="449.0" cy="446.9" r="2.2"/><circle cx="449.2" cy="448.9" r="2.2"/><circle cx="447.2" cy="461.7" r="2.2"/><circle cx="450.3" cy="460.6" r="2.2"/><circle cx="470.9" cy="465.0" r="2.2"/><circle cx="487.5" cy="466.4" r="2.2"/><circle cx="515.5" cy="432.0" r="2.2"/><circle cx="514.2" cy="434.9" r="2.2"/><circle cx="519.0" cy="441.2" r="2.2"/><circle cx="522.5" cy="442.5" r="2.2"/><circle cx="506.3" cy="447.7" r="2.2"/><circle cx="502.8" cy="450.4" r="2.2"/><circle cx="500.2" cy="454.7" r="2.2"/><circle cx="519.0" cy="453.0" r="2.2"/><circle cx="512.9" cy="455.2" r="2.2"/><circle cx="515.5" cy="458.2" r="2.2"/><circle cx="517.3" cy="459.6" r="2.2"/><circle cx="524.7" cy="462.0" r="2.2"/><circle cx="519.0" cy="462.6" r="2.2"/><circle cx="498.9" cy="460.4" r="2.2"/><circle cx="496.3" cy="463.9" r="2.2"/><circle cx="505.9" cy="465.7" r="2.2"/><circle cx="449.8" cy="468.9" r="2.2"/><circle cx="446.3" cy="472.4" r="2.2"/><circle cx="449.8" cy="474.9" r="2.2"/><circle cx="447.0" cy="478.4" r="2.2"/><circle cx="446.8" cy="480.0" r="2.2"/><circle cx="471.3" cy="478.4" r="2.2"/><circle cx="475.7" cy="477.9" r="2.2"/><circle cx="481.4" cy="469.2" r="2.2"/><circle cx="487.1" cy="467.0" r="2.2"/><circle cx="485.3" cy="473.6" r="2.2"/><circle cx="484.4" cy="481.5" r="2.2"/><circle cx="485.7" cy="484.1" r="2.2"/><circle cx="488.8" cy="487.1" r="2.2"/><circle cx="457.3" cy="486.3" r="2.2"/><circle cx="460.8" cy="485.4" r="2.2"/><circle cx="446.8" cy="488.0" r="2.2"/><circle cx="445.9" cy="491.1" r="2.2"/><circle cx="454.6" cy="492.0" r="2.2"/><circle cx="479.2" cy="488.9" r="2.2"/><circle cx="482.7" cy="489.3" r="2.2"/><circle cx="480.1" cy="497.2" r="2.2"/><circle cx="483.6" cy="496.3" r="2.2"/><circle cx="485.7" cy="495.0" r="2.2"/><circle cx="451.6" cy="497.2" r="2.2"/><circle cx="463.0" cy="499.8" r="2.2"/><circle cx="461.7" cy="502.5" r="2.2"/><circle cx="449.8" cy="502.0" r="2.2"/><circle cx="452.0" cy="502.9" r="2.2"/><circle cx="472.2" cy="504.2" r="2.2"/><circle cx="478.3" cy="504.7" r="2.2"/><circle cx="476.5" cy="506.0" r="2.2"/><circle cx="487.9" cy="503.8" r="2.2"/><circle cx="446.8" cy="506.9" r="2.2"/><circle cx="458.2" cy="507.3" r="2.2"/><circle cx="459.5" cy="508.6" r="2.2"/><circle cx="473.9" cy="507.7" r="2.2"/><circle cx="480.5" cy="510.4" r="2.2"/><circle cx="477.4" cy="512.5" r="2.2"/><circle cx="447.2" cy="513.9" r="2.2"/><circle cx="450.3" cy="514.7" r="2.2"/><circle cx="449.4" cy="517.4" r="2.2"/><circle cx="456.4" cy="516.0" r="2.2"/><circle cx="478.3" cy="516.0" r="2.2"/><circle cx="482.7" cy="516.5" r="2.2"/><circle cx="481.8" cy="521.3" r="2.2"/><circle cx="447.6" cy="523.1" r="2.2"/><circle cx="448.5" cy="525.2" r="2.2"/><circle cx="470.4" cy="525.2" r="2.2"/><circle cx="479.2" cy="523.9" r="2.2"/><circle cx="584.6" cy="457.3" r="2.2"/><circle cx="552.4" cy="475.1" r="2.2"/><circle cx="536.0" cy="474.4" r="2.2"/><circle cx="561.6" cy="475.7" r="2.2"/><circle cx="565.3" cy="478.4" r="2.2"/><circle cx="572.8" cy="479.3" r="2.2"/><circle cx="528.1" cy="478.9" r="2.2"/><circle cx="538.6" cy="480.8" r="2.2"/><circle cx="548.5" cy="483.0" r="2.2"/><circle cx="559.0" cy="484.5" r="2.2"/><circle cx="555.1" cy="492.8" r="2.2"/><circle cx="527.1" cy="489.1" r="2.2"/><circle cx="524.9" cy="461.8" r="2.2"/><circle cx="518.9" cy="453.4" r="2.2"/><circle cx="520.3" cy="442.5" r="2.2"/><circle cx="545.2" cy="518.0" r="2.2"/><circle cx="552.8" cy="475.0" r="2.2"/><circle cx="562.5" cy="475.9" r="2.2"/><circle cx="565.5" cy="478.5" r="2.2"/><circle cx="573.1" cy="479.1" r="2.2"/><circle cx="559.0" cy="484.7" r="2.2"/><circle cx="554.9" cy="493.2" r="2.2"/><circle cx="554.2" cy="520.9" r="2.2"/><circle cx="652.2" cy="448.5" r="2.2"/><circle cx="657.0" cy="447.6" r="2.2"/><circle cx="640.7" cy="478.0" r="2.2"/><circle cx="447.6" cy="524.0" r="2.2"/><circle cx="450.3" cy="517.9" r="2.2"/><circle cx="470.4" cy="525.4" r="2.2"/><circle cx="480.0" cy="524.0" r="2.2"/><circle cx="473.9" cy="532.4" r="2.2"/><circle cx="488.8" cy="527.9" r="2.2"/><circle cx="446.8" cy="542.9" r="2.2"/><circle cx="450.6" cy="544.5" r="2.2"/><circle cx="463.9" cy="541.5" r="2.2"/><circle cx="471.0" cy="541.9" r="2.2"/><circle cx="459.0" cy="559.0" r="2.2"/><circle cx="448.5" cy="564.7" r="2.2"/><circle cx="453.4" cy="569.2" r="2.2"/><circle cx="471.6" cy="592.0" r="2.2"/><circle cx="495.0" cy="590.2" r="2.2"/><circle cx="498.1" cy="580.4" r="2.2"/><circle cx="514.2" cy="579.7" r="2.2"/><circle cx="506.3" cy="569.6" r="2.2"/><circle cx="514.2" cy="567.8" r="2.2"/><circle cx="516.8" cy="562.9" r="2.2"/><circle cx="514.2" cy="557.0" r="2.2"/><circle cx="492.7" cy="562.2" r="2.2"/><circle cx="497.2" cy="562.9" r="2.2"/><circle cx="500.2" cy="564.0" r="2.2"/><circle cx="504.2" cy="560.4" r="2.2"/><circle cx="500.7" cy="555.9" r="2.2"/><circle cx="494.4" cy="553.8" r="2.2"/><circle cx="512.5" cy="548.2" r="2.2"/><circle cx="514.7" cy="542.9" r="2.2"/><circle cx="494.1" cy="545.9" r="2.2"/><circle cx="488.8" cy="540.7" r="2.2"/><circle cx="493.2" cy="538.9" r="2.2"/><circle cx="498.4" cy="539.8" r="2.2"/><circle cx="502.0" cy="542.4" r="2.2"/><circle cx="500.2" cy="544.7" r="2.2"/><circle cx="509.5" cy="539.8" r="2.2"/><circle cx="522.1" cy="541.2" r="2.2"/><circle cx="515.1" cy="536.3" r="2.2"/><circle cx="520.3" cy="534.5" r="2.2"/><circle cx="504.6" cy="533.6" r="2.2"/><circle cx="495.8" cy="531.9" r="2.2"/><circle cx="498.4" cy="521.4" r="2.2"/><circle cx="502.8" cy="519.6" r="2.2"/><circle cx="508.1" cy="521.4" r="2.2"/><circle cx="516.8" cy="522.3" r="2.2"/><circle cx="518.6" cy="529.3" r="2.2"/><circle cx="513.3" cy="530.1" r="2.2"/><circle cx="508.1" cy="529.3" r="2.2"/><circle cx="500.2" cy="527.5" r="2.2"/><circle cx="514.7" cy="602.5" r="2.2"/><circle cx="514.2" cy="613.0" r="2.2"/><circle cx="499.0" cy="616.5" r="2.2"/><circle cx="519.5" cy="623.5" r="2.2"/><circle cx="537.9" cy="531.0" r="2.2"/><circle cx="539.6" cy="525.8" r="2.2"/><circle cx="543.1" cy="541.9" r="2.2"/><circle cx="544.5" cy="518.8" r="2.2"/><circle cx="548.0" cy="557.0" r="2.2"/><circle cx="554.5" cy="520.9" r="2.2"/><circle cx="593.0" cy="536.1" r="2.2"/><circle cx="552.1" cy="543.9" r="2.2"/><circle cx="584.0" cy="548.3" r="2.2"/><circle cx="551.9" cy="558.0" r="2.2"/><circle cx="580.7" cy="607.4" r="2.2"/><circle cx="653.5" cy="564.7" r="2.2"/><circle cx="500.3" cy="454.9" r="2.2"/><circle cx="503.5" cy="450.5" r="2.2"/><circle cx="505.7" cy="447.9" r="2.2"/><circle cx="518.9" cy="452.7" r="2.2"/><circle cx="513.0" cy="455.2" r="2.2"/><circle cx="515.2" cy="457.8" r="2.2"/><circle cx="517.1" cy="459.6" r="2.2"/><circle cx="524.7" cy="461.8" r="2.2"/><circle cx="519.6" cy="462.9" r="2.2"/><circle cx="521.1" cy="466.9" r="2.2"/><circle cx="487.5" cy="466.9" r="2.2"/><circle cx="481.3" cy="469.1" r="2.2"/><circle cx="492.6" cy="465.8" r="2.2"/><circle cx="497.7" cy="461.8" r="2.2"/><circle cx="499.9" cy="464.0" r="2.2"/><circle cx="507.2" cy="466.2" r="2.2"/><circle cx="506.5" cy="469.1" r="2.2"/><circle cx="514.5" cy="469.1" r="2.2"/><circle cx="516.0" cy="472.0" r="2.2"/><circle cx="521.8" cy="474.2" r="2.2"/><circle cx="492.6" cy="470.9" r="2.2"/><circle cx="485.3" cy="473.1" r="2.2"/><circle cx="485.3" cy="476.4" r="2.2"/><circle cx="489.7" cy="475.7" r="2.2"/><circle cx="496.2" cy="472.7" r="2.2"/><circle cx="499.9" cy="470.5" r="2.2"/><circle cx="501.4" cy="475.7" r="2.2"/><circle cx="497.7" cy="478.6" r="2.2"/><circle cx="508.7" cy="477.1" r="2.2"/><circle cx="513.0" cy="477.8" r="2.2"/><circle cx="517.4" cy="477.1" r="2.2"/><circle cx="483.8" cy="480.8" r="2.2"/><circle cx="489.3" cy="481.1" r="2.2"/><circle cx="485.3" cy="483.7" r="2.2"/><circle cx="497.0" cy="482.2" r="2.2"/><circle cx="502.1" cy="481.5" r="2.2"/><circle cx="505.0" cy="479.3" r="2.2"/><circle cx="507.2" cy="481.5" r="2.2"/><circle cx="502.1" cy="484.4" r="2.2"/><circle cx="513.0" cy="483.0" r="2.2"/><circle cx="518.9" cy="482.2" r="2.2"/><circle cx="521.1" cy="485.9" r="2.2"/><circle cx="514.5" cy="487.3" r="2.2"/><circle cx="509.4" cy="487.3" r="2.2"/><circle cx="489.7" cy="486.6" r="2.2"/><circle cx="492.6" cy="488.8" r="2.2"/><circle cx="497.7" cy="487.3" r="2.2"/><circle cx="479.5" cy="488.8" r="2.2"/><circle cx="482.4" cy="489.2" r="2.2"/><circle cx="506.5" cy="489.5" r="2.2"/><circle cx="526.9" cy="478.6" r="2.2"/><circle cx="526.9" cy="488.8" r="2.2"/><circle cx="485.7" cy="494.7" r="2.2"/><circle cx="490.8" cy="495.5" r="2.2"/><circle cx="482.4" cy="496.6" r="2.2"/><circle cx="479.5" cy="498.0" r="2.2"/><circle cx="488.2" cy="499.5" r="2.2"/><circle cx="499.2" cy="498.0" r="2.2"/><circle cx="507.2" cy="496.9" r="2.2"/><circle cx="500.6" cy="501.0" r="2.2"/><circle cx="504.3" cy="502.4" r="2.2"/><circle cx="492.6" cy="504.6" r="2.2"/><circle cx="495.5" cy="504.2" r="2.2"/><circle cx="488.2" cy="504.2" r="2.2"/><circle cx="479.5" cy="505.3" r="2.2"/><circle cx="502.1" cy="505.3" r="2.2"/><circle cx="504.3" cy="506.8" r="2.2"/><circle cx="502.1" cy="509.0" r="2.2"/><circle cx="505.0" cy="509.7" r="2.2"/><circle cx="493.7" cy="509.3" r="2.2"/><circle cx="497.0" cy="511.2" r="2.2"/><circle cx="493.3" cy="513.4" r="2.2"/><circle cx="498.4" cy="514.1" r="2.2"/><circle cx="505.7" cy="512.6" r="2.2"/><circle cx="511.6" cy="501.7" r="2.2"/><circle cx="514.5" cy="502.4" r="2.2"/><circle cx="510.8" cy="505.3" r="2.2"/><circle cx="517.4" cy="505.7" r="2.2"/><circle cx="521.1" cy="504.2" r="2.2"/><circle cx="512.3" cy="508.2" r="2.2"/><circle cx="516.0" cy="509.0" r="2.2"/><circle cx="519.6" cy="509.7" r="2.2"/><circle cx="511.6" cy="511.5" r="2.2"/><circle cx="516.0" cy="511.2" r="2.2"/><circle cx="518.1" cy="514.1" r="2.2"/><circle cx="516.7" cy="517.0" r="2.2"/><circle cx="480.2" cy="510.1" r="2.2"/><circle cx="478.7" cy="515.5" r="2.2"/><circle cx="482.4" cy="516.3" r="2.2"/><circle cx="482.4" cy="521.4" r="2.2"/><circle cx="479.5" cy="523.6" r="2.2"/><circle cx="482.4" cy="525.0" r="2.2"/><circle cx="502.5" cy="517.0" r="2.2"/><circle cx="497.7" cy="520.7" r="2.2"/><circle cx="501.4" cy="519.9" r="2.2"/><circle cx="507.9" cy="519.9" r="2.2"/><circle cx="499.2" cy="523.6" r="2.2"/><circle cx="505.7" cy="522.1" r="2.2"/><circle cx="506.5" cy="525.0" r="2.2"/><circle cx="501.4" cy="527.2" r="2.2"/><circle cx="507.2" cy="528.7" r="2.2"/><circle cx="518.9" cy="521.4" r="2.2"/><circle cx="516.7" cy="523.6" r="2.2"/><circle cx="512.3" cy="526.5" r="2.2"/><circle cx="515.2" cy="528.0" r="2.2"/><circle cx="518.9" cy="528.0" r="2.2"/><circle cx="514.5" cy="530.1" r="2.2"/><circle cx="489.0" cy="528.0" r="2.2"/><circle cx="494.8" cy="532.0" r="2.2"/><circle cx="498.4" cy="531.2" r="2.2"/><circle cx="504.6" cy="533.8" r="2.2"/><circle cx="493.3" cy="537.4" r="2.2"/><circle cx="499.9" cy="538.9" r="2.2"/><circle cx="509.4" cy="538.9" r="2.2"/><circle cx="516.0" cy="536.4" r="2.2"/><circle cx="518.9" cy="534.5" r="2.2"/><circle cx="521.8" cy="533.8" r="2.2"/><circle cx="497.1" cy="471.9" r="2.2"/><circle cx="504.9" cy="486.4" r="2.2"/><circle cx="505.9" cy="524.2" r="2.2"/><circle cx="517.8" cy="491.7" r="2.2"/><circle cx="509.5" cy="509.0" r="2.2"/><circle cx="517.8" cy="470.5" r="2.2"/><circle cx="513.0" cy="461.9" r="2.2"/><circle cx="507.9" cy="507.8" r="2.2"/><circle cx="520.0" cy="530.4" r="2.2"/><circle cx="509.9" cy="496.9" r="2.2"/><circle cx="512.8" cy="490.4" r="2.2"/><circle cx="504.3" cy="533.6" r="2.2"/><circle cx="494.5" cy="463.2" r="2.2"/><circle cx="513.8" cy="460.4" r="2.2"/><circle cx="513.7" cy="507.9" r="2.2"/><circle cx="499.7" cy="519.7" r="2.2"/><circle cx="498.5" cy="492.8" r="2.2"/><circle cx="492.4" cy="470.1" r="2.2"/><circle cx="492.5" cy="535.3" r="2.2"/><circle cx="521.6" cy="486.1" r="2.2"/><circle cx="513.8" cy="519.5" r="2.2"/><circle cx="510.0" cy="456.1" r="2.2"/><circle cx="505.5" cy="464.7" r="2.2"/><circle cx="490.3" cy="514.2" r="2.2"/><circle cx="504.9" cy="497.3" r="2.2"/><circle cx="506.5" cy="539.5" r="2.2"/><circle cx="503.1" cy="511.7" r="2.2"/><circle cx="512.7" cy="524.5" r="2.2"/><circle cx="502.9" cy="506.5" r="2.2"/><circle cx="493.8" cy="464.4" r="2.2"/><circle cx="492.6" cy="505.8" r="2.2"/><circle cx="515.9" cy="515.7" r="2.2"/><circle cx="502.5" cy="506.4" r="2.2"/><circle cx="488.2" cy="495.1" r="2.2"/><circle cx="488.8" cy="526.3" r="2.2"/><circle cx="496.5" cy="466.4" r="2.2"/><circle cx="490.0" cy="532.9" r="2.2"/><circle cx="497.4" cy="467.7" r="2.2"/><circle cx="506.4" cy="515.5" r="2.2"/><circle cx="505.6" cy="518.5" r="2.2"/><circle cx="488.1" cy="496.0" r="2.2"/><circle cx="516.1" cy="531.1" r="2.2"/><circle cx="512.1" cy="460.1" r="2.2"/><circle cx="510.1" cy="521.5" r="2.2"/><circle cx="515.8" cy="458.1" r="2.2"/><circle cx="495.8" cy="532.1" r="2.2"/><circle cx="487.2" cy="458.5" r="2.2"/><circle cx="494.2" cy="535.8" r="2.2"/><circle cx="517.7" cy="468.5" r="2.2"/><circle cx="492.4" cy="530.7" r="2.2"/><circle cx="495.6" cy="466.0" r="2.2"/><circle cx="501.8" cy="474.0" r="2.2"/><circle cx="504.0" cy="475.9" r="2.2"/><circle cx="520.7" cy="473.4" r="2.2"/><circle cx="513.9" cy="499.6" r="2.2"/><circle cx="509.9" cy="476.7" r="2.2"/><circle cx="518.4" cy="475.7" r="2.2"/><circle cx="498.2" cy="501.7" r="2.2"/><circle cx="521.8" cy="489.4" r="2.2"/><circle cx="500.3" cy="512.2" r="2.2"/><circle cx="489.1" cy="478.1" r="2.2"/><circle cx="487.8" cy="490.0" r="2.2"/><circle cx="508.5" cy="493.4" r="2.2"/><circle cx="499.4" cy="475.7" r="2.2"/><circle cx="507.8" cy="508.7" r="2.2"/><circle cx="504.2" cy="486.6" r="2.2"/><circle cx="520.4" cy="499.4" r="2.2"/><circle cx="510.9" cy="477.5" r="2.2"/><circle cx="502.2" cy="458.4" r="2.2"/><circle cx="516.1" cy="475.5" r="2.2"/><circle cx="487.3" cy="481.1" r="2.2"/><circle cx="501.7" cy="480.2" r="2.2"/><circle cx="501.4" cy="473.9" r="2.2"/><circle cx="500.7" cy="469.4" r="2.2"/><circle cx="504.6" cy="483.2" r="2.2"/><circle cx="492.0" cy="486.6" r="2.2"/><circle cx="498.8" cy="459.4" r="2.2"/><circle cx="502.9" cy="483.8" r="2.2"/><circle cx="503.2" cy="476.7" r="2.2"/><circle cx="487.7" cy="458.2" r="2.2"/><circle cx="514.5" cy="466.7" r="2.2"/><circle cx="503.8" cy="459.7" r="2.2"/><circle cx="505.9" cy="489.6" r="2.2"/><circle cx="489.2" cy="478.4" r="2.2"/><circle cx="516.6" cy="467.9" r="2.2"/><circle cx="509.8" cy="462.0" r="2.2"/><circle cx="512.5" cy="457.8" r="2.2"/><circle cx="498.5" cy="462.7" r="2.2"/><circle cx="519.0" cy="475.9" r="2.2"/><circle cx="502.8" cy="484.0" r="2.2"/><circle cx="510.3" cy="457.5" r="2.2"/><circle cx="506.5" cy="459.0" r="2.2"/><circle cx="488.9" cy="479.9" r="2.2"/><circle cx="513.5" cy="459.9" r="2.2"/><circle cx="501.1" cy="457.4" r="2.2"/><circle cx="516.7" cy="491.2" r="2.2"/><circle cx="511.0" cy="491.6" r="2.2"/><circle cx="516.1" cy="468.2" r="2.2"/><circle cx="502.9" cy="489.7" r="2.2"/><circle cx="514.7" cy="486.9" r="2.2"/></g>
<path d="M449.0,501.2 L487.3,501.6 L502.0,491.1 L516.8,492.8 L548.5,503.6 L589.1,478.5" fill="none" stroke="#000" stroke-width="2.4" stroke-linejoin="round" stroke-linecap="round"/>
<path d="M448.5,437.5 L489.5,462.5 L518.0,440.3 L548.5,468.1 L581.4,450.8" fill="none" stroke="#000" stroke-width="2.2" stroke-linejoin="round" stroke-linecap="round" stroke-dasharray="6.6,10.6"/>
<path d="M448.5,564.3 L490.6,571.3 L515.1,602.8 L548.5,556.5 L584.6,601.8" fill="none" stroke="#000" stroke-width="2.2" stroke-linejoin="round" stroke-linecap="round" stroke-dasharray="6.6,10.6"/>
<rect x="61.50" y="407.30" width="252.40" height="230.10" fill="none" stroke="#000" stroke-width="1.2"/>
<line x1="104.50" y1="637.40" x2="104.50" y2="645.90" stroke="#111" stroke-width="1.15" />
<line x1="104.50" y1="407.30" x2="104.50" y2="398.80" stroke="#111" stroke-width="1.15" />
<text x="104.50" y="663.60" text-anchor="middle" font-size="14.27" fill="#000">0.25</text>
<line x1="152.00" y1="637.40" x2="152.00" y2="645.90" stroke="#111" stroke-width="1.15" />
<line x1="152.00" y1="407.30" x2="152.00" y2="398.80" stroke="#111" stroke-width="1.15" />
<text x="152.00" y="663.60" text-anchor="middle" font-size="14.27" fill="#000">0.5</text>
<line x1="199.50" y1="637.40" x2="199.50" y2="645.90" stroke="#111" stroke-width="1.15" />
<line x1="199.50" y1="407.30" x2="199.50" y2="398.80" stroke="#111" stroke-width="1.15" />
<text x="199.50" y="663.60" text-anchor="middle" font-size="14.27" fill="#000">1</text>
<line x1="247.00" y1="637.40" x2="247.00" y2="645.90" stroke="#111" stroke-width="1.15" />
<line x1="247.00" y1="407.30" x2="247.00" y2="398.80" stroke="#111" stroke-width="1.15" />
<text x="247.00" y="663.60" text-anchor="middle" font-size="14.27" fill="#000">2</text>
<line x1="294.50" y1="637.40" x2="294.50" y2="645.90" stroke="#111" stroke-width="1.15" />
<line x1="294.50" y1="407.30" x2="294.50" y2="398.80" stroke="#111" stroke-width="1.15" />
<text x="294.50" y="663.60" text-anchor="middle" font-size="14.27" fill="#000">4</text>
<line x1="61.50" y1="625.46" x2="53.00" y2="625.46" stroke="#111" stroke-width="1.15" />
<line x1="313.90" y1="625.46" x2="322.40" y2="625.46" stroke="#111" stroke-width="1.15" />
<text x="45.00" y="630.56" text-anchor="end" font-size="14.27" fill="#000">−2</text>
<line x1="61.50" y1="588.68" x2="53.00" y2="588.68" stroke="#111" stroke-width="1.15" />
<line x1="313.90" y1="588.68" x2="322.40" y2="588.68" stroke="#111" stroke-width="1.15" />
<text x="45.00" y="593.78" text-anchor="end" font-size="14.27" fill="#000">−1</text>
<line x1="61.50" y1="551.90" x2="53.00" y2="551.90" stroke="#111" stroke-width="1.15" />
<line x1="313.90" y1="551.90" x2="322.40" y2="551.90" stroke="#111" stroke-width="1.15" />
<text x="45.00" y="557.00" text-anchor="end" font-size="14.27" fill="#000">0</text>
<line x1="61.50" y1="515.12" x2="53.00" y2="515.12" stroke="#111" stroke-width="1.15" />
<line x1="313.90" y1="515.12" x2="322.40" y2="515.12" stroke="#111" stroke-width="1.15" />
<text x="45.00" y="520.22" text-anchor="end" font-size="14.27" fill="#000">1</text>
<line x1="61.50" y1="478.34" x2="53.00" y2="478.34" stroke="#111" stroke-width="1.15" />
<line x1="313.90" y1="478.34" x2="322.40" y2="478.34" stroke="#111" stroke-width="1.15" />
<text x="45.00" y="483.44" text-anchor="end" font-size="14.27" fill="#000">2</text>
<line x1="61.50" y1="441.56" x2="53.00" y2="441.56" stroke="#111" stroke-width="1.15" />
<line x1="313.90" y1="441.56" x2="322.40" y2="441.56" stroke="#111" stroke-width="1.15" />
<text x="45.00" y="446.66" text-anchor="end" font-size="14.27" fill="#000">3</text>
<text x="187.70" y="374.40" text-anchor="middle" font-size="14.27" fill="#000">CWRES vs PRED</text>
<text x="187.70" y="692.00" text-anchor="middle" font-size="14.27" fill="#000">Population prediction (mg/L)</text>
<text x="12.30" y="522.00" text-anchor="middle" font-size="14.27" fill="#000" transform="rotate(-90 12.30 522.00)">Conditional weighted residual</text>
<rect x="431.50" y="407.40" width="240.30" height="230.00" fill="none" stroke="#000" stroke-width="1.2"/>
<line x1="446.30" y1="637.40" x2="446.30" y2="645.90" stroke="#111" stroke-width="1.15" />
<line x1="446.30" y1="407.40" x2="446.30" y2="398.90" stroke="#111" stroke-width="1.15" />
<text x="446.30" y="664.00" text-anchor="middle" font-size="14.27" fill="#000">0</text>
<line x1="488.80" y1="637.40" x2="488.80" y2="645.90" stroke="#111" stroke-width="1.15" />
<line x1="488.80" y1="407.40" x2="488.80" y2="398.90" stroke="#111" stroke-width="1.15" />
<text x="488.80" y="664.00" text-anchor="middle" font-size="14.27" fill="#000">5</text>
<line x1="531.30" y1="637.40" x2="531.30" y2="645.90" stroke="#111" stroke-width="1.15" />
<line x1="531.30" y1="407.40" x2="531.30" y2="398.90" stroke="#111" stroke-width="1.15" />
<text x="531.30" y="664.00" text-anchor="middle" font-size="14.27" fill="#000">10</text>
<line x1="573.80" y1="637.40" x2="573.80" y2="645.90" stroke="#111" stroke-width="1.15" />
<line x1="573.80" y1="407.40" x2="573.80" y2="398.90" stroke="#111" stroke-width="1.15" />
<text x="573.80" y="664.00" text-anchor="middle" font-size="14.27" fill="#000">15</text>
<line x1="616.30" y1="637.40" x2="616.30" y2="645.90" stroke="#111" stroke-width="1.15" />
<line x1="616.30" y1="407.40" x2="616.30" y2="398.90" stroke="#111" stroke-width="1.15" />
<text x="616.30" y="664.00" text-anchor="middle" font-size="14.27" fill="#000">20</text>
<line x1="658.80" y1="637.40" x2="658.80" y2="645.90" stroke="#111" stroke-width="1.15" />
<line x1="658.80" y1="407.40" x2="658.80" y2="398.90" stroke="#111" stroke-width="1.15" />
<text x="658.80" y="664.00" text-anchor="middle" font-size="14.27" fill="#000">25</text>
<line x1="431.50" y1="623.12" x2="425.10" y2="623.12" stroke="#222" stroke-width="1.1" />
<line x1="671.80" y1="623.12" x2="678.20" y2="623.12" stroke="#222" stroke-width="1.1" />
<line x1="431.50" y1="609.03" x2="425.10" y2="609.03" stroke="#222" stroke-width="1.1" />
<line x1="671.80" y1="609.03" x2="678.20" y2="609.03" stroke="#222" stroke-width="1.1" />
<line x1="431.50" y1="599.04" x2="425.10" y2="599.04" stroke="#222" stroke-width="1.1" />
<line x1="671.80" y1="599.04" x2="678.20" y2="599.04" stroke="#222" stroke-width="1.1" />
<line x1="431.50" y1="591.28" x2="425.10" y2="591.28" stroke="#222" stroke-width="1.1" />
<line x1="671.80" y1="591.28" x2="678.20" y2="591.28" stroke="#222" stroke-width="1.1" />
<line x1="431.50" y1="584.95" x2="425.10" y2="584.95" stroke="#222" stroke-width="1.1" />
<line x1="671.80" y1="584.95" x2="678.20" y2="584.95" stroke="#222" stroke-width="1.1" />
<line x1="431.50" y1="579.59" x2="425.10" y2="579.59" stroke="#222" stroke-width="1.1" />
<line x1="671.80" y1="579.59" x2="678.20" y2="579.59" stroke="#222" stroke-width="1.1" />
<line x1="431.50" y1="574.95" x2="425.10" y2="574.95" stroke="#222" stroke-width="1.1" />
<line x1="671.80" y1="574.95" x2="678.20" y2="574.95" stroke="#222" stroke-width="1.1" />
<line x1="431.50" y1="570.86" x2="425.10" y2="570.86" stroke="#222" stroke-width="1.1" />
<line x1="671.80" y1="570.86" x2="678.20" y2="570.86" stroke="#222" stroke-width="1.1" />
<line x1="431.50" y1="543.12" x2="425.10" y2="543.12" stroke="#222" stroke-width="1.1" />
<line x1="671.80" y1="543.12" x2="678.20" y2="543.12" stroke="#222" stroke-width="1.1" />
<line x1="431.50" y1="529.03" x2="425.10" y2="529.03" stroke="#222" stroke-width="1.1" />
<line x1="671.80" y1="529.03" x2="678.20" y2="529.03" stroke="#222" stroke-width="1.1" />
<line x1="431.50" y1="519.04" x2="425.10" y2="519.04" stroke="#222" stroke-width="1.1" />
<line x1="671.80" y1="519.04" x2="678.20" y2="519.04" stroke="#222" stroke-width="1.1" />
<line x1="431.50" y1="511.28" x2="425.10" y2="511.28" stroke="#222" stroke-width="1.1" />
<line x1="671.80" y1="511.28" x2="678.20" y2="511.28" stroke="#222" stroke-width="1.1" />
<line x1="431.50" y1="504.95" x2="425.10" y2="504.95" stroke="#222" stroke-width="1.1" />
<line x1="671.80" y1="504.95" x2="678.20" y2="504.95" stroke="#222" stroke-width="1.1" />
<line x1="431.50" y1="499.59" x2="425.10" y2="499.59" stroke="#222" stroke-width="1.1" />
<line x1="671.80" y1="499.59" x2="678.20" y2="499.59" stroke="#222" stroke-width="1.1" />
<line x1="431.50" y1="494.95" x2="425.10" y2="494.95" stroke="#222" stroke-width="1.1" />
<line x1="671.80" y1="494.95" x2="678.20" y2="494.95" stroke="#222" stroke-width="1.1" />
<line x1="431.50" y1="490.86" x2="425.10" y2="490.86" stroke="#222" stroke-width="1.1" />
<line x1="671.80" y1="490.86" x2="678.20" y2="490.86" stroke="#222" stroke-width="1.1" />
<line x1="431.50" y1="463.12" x2="425.10" y2="463.12" stroke="#222" stroke-width="1.1" />
<line x1="671.80" y1="463.12" x2="678.20" y2="463.12" stroke="#222" stroke-width="1.1" />
<line x1="431.50" y1="449.03" x2="425.10" y2="449.03" stroke="#222" stroke-width="1.1" />
<line x1="671.80" y1="449.03" x2="678.20" y2="449.03" stroke="#222" stroke-width="1.1" />
<line x1="431.50" y1="439.04" x2="425.10" y2="439.04" stroke="#222" stroke-width="1.1" />
<line x1="671.80" y1="439.04" x2="678.20" y2="439.04" stroke="#222" stroke-width="1.1" />
<line x1="431.50" y1="431.28" x2="425.10" y2="431.28" stroke="#222" stroke-width="1.1" />
<line x1="671.80" y1="431.28" x2="678.20" y2="431.28" stroke="#222" stroke-width="1.1" />
<line x1="431.50" y1="424.95" x2="425.10" y2="424.95" stroke="#222" stroke-width="1.1" />
<line x1="671.80" y1="424.95" x2="678.20" y2="424.95" stroke="#222" stroke-width="1.1" />
<line x1="431.50" y1="419.59" x2="425.10" y2="419.59" stroke="#222" stroke-width="1.1" />
<line x1="671.80" y1="419.59" x2="678.20" y2="419.59" stroke="#222" stroke-width="1.1" />
<line x1="431.50" y1="414.95" x2="425.10" y2="414.95" stroke="#222" stroke-width="1.1" />
<line x1="671.80" y1="414.95" x2="678.20" y2="414.95" stroke="#222" stroke-width="1.1" />
<line x1="431.50" y1="410.86" x2="425.10" y2="410.86" stroke="#222" stroke-width="1.1" />
<line x1="671.80" y1="410.86" x2="678.20" y2="410.86" stroke="#222" stroke-width="1.1" />
<line x1="431.50" y1="567.20" x2="419.00" y2="567.20" stroke="#222" stroke-width="1.1" />
<line x1="671.80" y1="567.20" x2="684.30" y2="567.20" stroke="#222" stroke-width="1.1" />
<text x="411.00" y="572.30" text-anchor="end" font-size="14.27" fill="#000">0.1</text>
<line x1="431.50" y1="487.20" x2="419.00" y2="487.20" stroke="#222" stroke-width="1.1" />
<line x1="671.80" y1="487.20" x2="684.30" y2="487.20" stroke="#222" stroke-width="1.1" />
<text x="411.00" y="492.30" text-anchor="end" font-size="14.27" fill="#000">1</text>
<text x="551.70" y="374.40" text-anchor="middle" font-size="14.27" fill="#000">Visual predictive check</text>
<text x="551.70" y="692.00" text-anchor="middle" font-size="14.27" fill="#000">Time after dose (h)</text>
<text x="374.50" y="522.00" text-anchor="middle" font-size="14.27" fill="#000" transform="rotate(-90 374.50 522.00)">Prediction−corrected concentration</text>
</svg></body></html>
